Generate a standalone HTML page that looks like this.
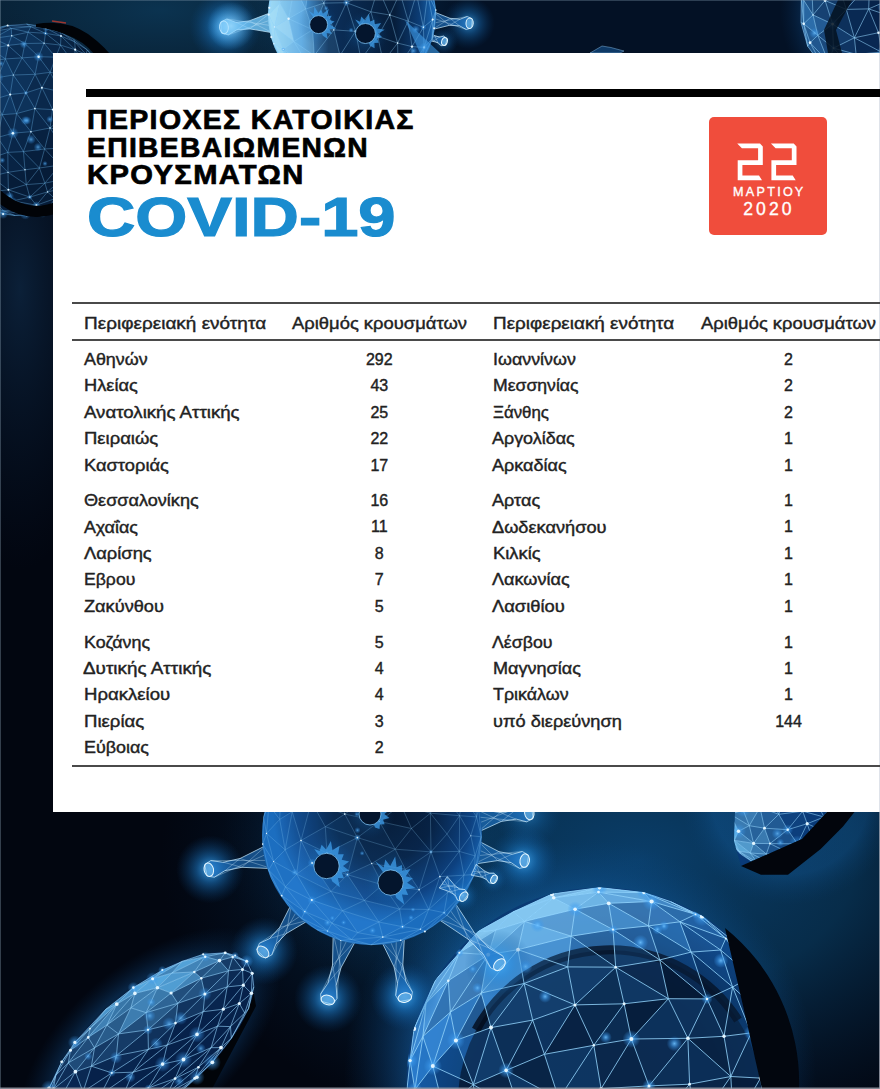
<!DOCTYPE html>
<html lang="el"><head><meta charset="utf-8"><title>COVID-19</title><style>
html,body{margin:0;padding:0}
body{width:880px;height:1089px;overflow:hidden;position:relative;background:#020714;font-family:"Liberation Sans",sans-serif;color:#222}
#bg{position:absolute;left:0;top:0;display:block}
#panel{position:absolute;left:53px;top:53px;width:827px;height:759px;background:#fff;border-right:1px solid #dfe3ea;box-sizing:border-box}
.bar{position:absolute;left:86px;top:89px;width:794px;height:7.5px;background:#000}
.t{position:absolute;left:86.8px;font-weight:bold;font-size:27.5px;line-height:27px;color:#000;white-space:nowrap;transform-origin:0 0;letter-spacing:1.3px;word-spacing:0px;-webkit-text-stroke:0.7px #000}
.cv{position:absolute;left:86.6px;font-weight:bold;font-size:55px;line-height:55px;color:#1a8ccf;white-space:nowrap;transform-origin:0 0;-webkit-text-stroke:1.2px #1a8ccf}
.badge{position:absolute;left:709px;top:116.5px;width:117.5px;height:118.5px;border-radius:5px;background:#f04d3c;color:#fff}
.badge svg{position:absolute;left:0;top:0}
.badge .m{position:absolute;left:0;width:100%;text-align:center;white-space:nowrap;-webkit-text-stroke:0.35px #fff}
.hl{position:absolute;left:72px;width:808px;height:2px;background:#4a4a4a}
.c{position:absolute;white-space:nowrap;font-size:16.5px;line-height:20px;transform-origin:0 50%;color:#222;-webkit-text-stroke:0.4px #222}
.n{position:absolute;white-space:nowrap;font-size:16px;line-height:20px;width:60px;text-align:center;color:#222;-webkit-text-stroke:0.4px #222}
</style></head><body>
<svg id="bg" width="880" height="1089" viewBox="0 0 880 1089">
<defs>
<radialGradient id="halo"><stop offset="0" stop-color="#48b4ff" stop-opacity="0.9"/><stop offset="0.4" stop-color="#1e84d8" stop-opacity="0.5"/><stop offset="1" stop-color="#0a4a8a" stop-opacity="0"/></radialGradient>
<radialGradient id="amb1"><stop offset="0" stop-color="#0a3e6a"/><stop offset="0.45" stop-color="#083354" stop-opacity="0.85"/><stop offset="1" stop-color="#041a34" stop-opacity="0"/></radialGradient>
<radialGradient id="amb2"><stop offset="0" stop-color="#0b3350"/><stop offset="0.5" stop-color="#0a2a42" stop-opacity="0.8"/><stop offset="1" stop-color="#04203c" stop-opacity="0"/></radialGradient>
<radialGradient id="amb3"><stop offset="0" stop-color="#0b2038"/><stop offset="1" stop-color="#06152a" stop-opacity="0"/></radialGradient>
<radialGradient id="rim"><stop offset="0" stop-color="#08244a"/><stop offset="0.6" stop-color="#0a2f60"/><stop offset="0.9" stop-color="#1560aa"/><stop offset="1" stop-color="#1b70c0"/></radialGradient>
<radialGradient id="vir" cx="0.55" cy="0.4"><stop offset="0" stop-color="#051730"/><stop offset="0.45" stop-color="#072244"/><stop offset="0.8" stop-color="#0d4180"/><stop offset="1" stop-color="#1868b8"/></radialGradient>
<radialGradient id="big" cx="0.5" cy="0.55" r="0.5"><stop offset="0" stop-color="#051c3a"/><stop offset="0.65" stop-color="#062244"/><stop offset="1" stop-color="#0a3a74"/></radialGradient>
<radialGradient id="sphglow"><stop offset="0.72" stop-color="#1a78d0" stop-opacity="0.6"/><stop offset="1" stop-color="#0a4a8a" stop-opacity="0"/></radialGradient>
<linearGradient id="capg" x1="0" y1="0" x2="0" y2="1"><stop offset="0" stop-color="#9ad6f5"/><stop offset="1" stop-color="#2f86d0"/></linearGradient>
<linearGradient id="vtop" gradientUnits="userSpaceOnUse" x1="268" y1="0" x2="436" y2="0"><stop offset="0" stop-color="#8fd0f2"/><stop offset="0.2" stop-color="#3f92d8"/><stop offset="0.36" stop-color="#0b2f5a"/><stop offset="0.75" stop-color="#061d3a"/><stop offset="0.9" stop-color="#0c3c74"/><stop offset="1" stop-color="#1a6ab8"/></linearGradient>
<radialGradient id="halo2"><stop offset="0" stop-color="#9fdcff" stop-opacity="0.75"/><stop offset="1" stop-color="#48b4ff" stop-opacity="0"/></radialGradient>
<radialGradient id="dotglow"><stop offset="0" stop-color="#6cc0ff" stop-opacity="0.9"/><stop offset="0.5" stop-color="#3d9cf0" stop-opacity="0.45"/><stop offset="1" stop-color="#3d9cf0" stop-opacity="0"/></radialGradient>
<clipPath id="cBig"><circle cx="601" cy="1082" r="194.5"/></clipPath>
<clipPath id="cFrag"><path d="M735 812 L827 812 L802 839 L759 858 L741 866 L734 841 Z"/></clipPath>
</defs>
<rect width="880" height="1089" fill="#020610"/>
<ellipse cx="640" cy="860" rx="480" ry="300" fill="url(#amb1)"/>
<ellipse cx="160" cy="10" rx="330" ry="120" fill="url(#amb2)"/>
<ellipse cx="20" cy="290" rx="90" ry="280" fill="url(#amb3)"/>
<rect x="430" y="0" width="380" height="53" fill="#04162c" fill-opacity="0.75"/>
<circle cx="22" cy="120" r="96" fill="#061c38"/>
<g fill="#2882d7">
<path d="M7.8 152.4L23.4 151.6L25 169.8Z" fill-opacity="0.06"/>
<path d="M12.9 133.2L7.8 152.4L-2.5 137.5Z" fill-opacity="0.16"/>
<path d="M12.9 133.2L7.8 152.4L23.4 151.6Z" fill-opacity="0.11"/>
<path d="M63.2 147.9L50 128L44.6 149Z" fill-opacity="0.04"/>
<path d="M39.4 168L23.4 151.6L25 169.8Z" fill-opacity="0.06"/>
<path d="M39.4 168L23.4 151.6L44.6 149Z" fill-opacity="0.04"/>
<path d="M2.2 114.7L12.9 133.2L16.6 113.6Z" fill-opacity="0.14"/>
<path d="M2.2 114.7L12.9 133.2L-2.5 137.5Z" fill-opacity="0.15"/>
<path d="M30.9 131.7L23.4 151.6L44.6 149Z" fill-opacity="0.07"/>
<path d="M30.9 131.7L50 128L44.6 149Z" fill-opacity="0.05"/>
<path d="M30.9 131.7L12.9 133.2L23.4 151.6Z" fill-opacity="0.10"/>
<path d="M30.9 131.7L50 128L34.9 108.6Z" fill-opacity="0.12"/>
<path d="M30.9 131.7L34.9 108.6L16.6 113.6Z" fill-opacity="0.13"/>
<path d="M30.9 131.7L12.9 133.2L16.6 113.6Z" fill-opacity="0.18"/>
<path d="M10.2 94.5L2.2 114.7L16.6 113.6Z" fill-opacity="0.27"/>
<path d="M10.2 94.5L2.2 114.7L-7 99.6Z" fill-opacity="0.26"/>
<path d="M5.4 58.9L-10.7 61.7L-9.6 48.7Z" fill-opacity="0.32"/>
<path d="M8 172.3L7.8 152.4L25 169.8Z" fill-opacity="0.08"/>
<path d="M66.4 131.1L63.2 147.9L50 128Z" fill-opacity="0.05"/>
<path d="M-15.3 119.2L2.2 114.7L-7 99.6Z" fill-opacity="0.25"/>
<path d="M-15.3 119.2L2.2 114.7L-2.5 137.5Z" fill-opacity="0.21"/>
<path d="M-2.5 77.7L10.2 94.5L-7 99.6Z" fill-opacity="0.31"/>
<path d="M-2.5 77.7L5.4 58.9L-10.7 61.7Z" fill-opacity="0.23"/>
<path d="M8.2 45.4L5.4 58.9L-9.6 48.7Z" fill-opacity="0.32"/>
<path d="M8.2 45.4L-6.7 38.4L-9.6 48.7Z" fill-opacity="0.32"/>
<path d="M-12 30.6L7.6 25.5L3.6 26.2Z" fill-opacity="0.17"/>
<path d="M-12 30.6L7.6 25.5L-5.1 31.1Z" fill-opacity="0.18"/>
<path d="M-6.4 157.3L8 172.3L7.8 152.4Z" fill-opacity="0.07"/>
<path d="M-6.4 157.3L7.8 152.4L-2.5 137.5Z" fill-opacity="0.15"/>
<path d="M-6.4 157.3L8 172.3L-9.2 176.5Z" fill-opacity="0.11"/>
<path d="M25.9 92.9L34.9 108.6L16.6 113.6Z" fill-opacity="0.22"/>
<path d="M25.9 92.9L10.2 94.5L16.6 113.6Z" fill-opacity="0.19"/>
<path d="M13.3 75L-2.5 77.7L5.4 58.9Z" fill-opacity="0.32"/>
<path d="M13.3 75L-2.5 77.7L10.2 94.5Z" fill-opacity="0.27"/>
<path d="M13.3 75L25.9 92.9L10.2 94.5Z" fill-opacity="0.26"/>
<path d="M13.3 75L25.9 92.9L35.1 74.3Z" fill-opacity="0.22"/>
<path d="M61 36L46 28.2L60.5 32.2Z" fill-opacity="0.08"/>
<path d="M22.1 57.9L8.2 45.4L5.4 58.9Z" fill-opacity="0.18"/>
<path d="M22.1 57.9L13.3 75L5.4 58.9Z" fill-opacity="0.21"/>
<path d="M22.1 57.9L13.3 75L35.1 74.3Z" fill-opacity="0.20"/>
<path d="M8.4 189.8L8 172.3L-9.2 176.5Z" fill-opacity="0.05"/>
<path d="M52.6 109.6L50 128L34.9 108.6Z" fill-opacity="0.13"/>
<path d="M41.9 87.7L25.9 92.9L35.1 74.3Z" fill-opacity="0.14"/>
<path d="M41.9 87.7L50.2 72.3L35.1 74.3Z" fill-opacity="0.13"/>
<path d="M41.9 87.7L50.2 72.3L60.1 91.5Z" fill-opacity="0.12"/>
<path d="M41.9 87.7L25.9 92.9L34.9 108.6Z" fill-opacity="0.19"/>
<path d="M41.9 87.7L52.6 109.6L34.9 108.6Z" fill-opacity="0.12"/>
<path d="M41.9 87.7L52.6 109.6L60.1 91.5Z" fill-opacity="0.14"/>
<path d="M74.8 41.9L61 36L60.5 32.2Z" fill-opacity="0.04"/>
<path d="M75.2 49.7L85.5 65L86 54.4Z" fill-opacity="0.03"/>
<path d="M75.2 49.7L74.8 41.9L61 36Z" fill-opacity="0.05"/>
<path d="M11.3 28.4L7.6 25.5L-5.1 31.1Z" fill-opacity="0.14"/>
<path d="M11.3 28.4L-6.7 38.4L-5.1 31.1Z" fill-opacity="0.24"/>
<path d="M45.5 33.3L61 36L46 28.2Z" fill-opacity="0.12"/>
<path d="M24.9 43.5L22.1 57.9L8.2 45.4Z" fill-opacity="0.17"/>
<path d="M40.2 26L46 28.2L26.6 24.1Z" fill-opacity="0.07"/>
<path d="M40.2 26L46 28.2L60.5 32.2Z" fill-opacity="0.06"/>
<path d="M26.3 184.6L8 172.3L25 169.8Z" fill-opacity="0.04"/>
<path d="M68.8 112L76.4 92.5L60.1 91.5Z" fill-opacity="0.07"/>
<path d="M68.8 112L52.6 109.6L60.1 91.5Z" fill-opacity="0.09"/>
<path d="M68.8 112L66.4 131.1L50 128Z" fill-opacity="0.05"/>
<path d="M68.8 112L52.6 109.6L50 128Z" fill-opacity="0.05"/>
<path d="M74.2 63.8L75.2 49.7L85.5 65Z" fill-opacity="0.04"/>
<path d="M74.2 63.8L80.7 80.1L85.5 65Z" fill-opacity="0.04"/>
<path d="M11.7 35.8L11.3 28.4L-6.7 38.4Z" fill-opacity="0.29"/>
<path d="M11.7 35.8L11.3 28.4L28.2 32.2Z" fill-opacity="0.16"/>
<path d="M11.7 35.8L8.2 45.4L-6.7 38.4Z" fill-opacity="0.30"/>
<path d="M11.7 35.8L24.9 43.5L8.2 45.4Z" fill-opacity="0.27"/>
<path d="M11.7 35.8L24.9 43.5L28.2 32.2Z" fill-opacity="0.17"/>
<path d="M30.8 26.7L7.6 25.5L26.6 24.1Z" fill-opacity="0.15"/>
<path d="M30.8 26.7L11.3 28.4L7.6 25.5Z" fill-opacity="0.16"/>
<path d="M30.8 26.7L46 28.2L26.6 24.1Z" fill-opacity="0.08"/>
<path d="M30.8 26.7L11.3 28.4L28.2 32.2Z" fill-opacity="0.22"/>
<path d="M30.8 26.7L45.5 33.3L46 28.2Z" fill-opacity="0.09"/>
<path d="M30.8 26.7L45.5 33.3L28.2 32.2Z" fill-opacity="0.11"/>
<path d="M38.6 56.7L24.9 43.5L22.1 57.9Z" fill-opacity="0.23"/>
<path d="M38.6 56.7L50.2 72.3L55.7 57.2Z" fill-opacity="0.15"/>
<path d="M38.6 56.7L22.1 57.9L35.1 74.3Z" fill-opacity="0.23"/>
<path d="M38.6 56.7L50.2 72.3L35.1 74.3Z" fill-opacity="0.19"/>
<path d="M60.5 45.1L74.2 63.8L55.7 57.2Z" fill-opacity="0.07"/>
<path d="M60.5 45.1L74.2 63.8L75.2 49.7Z" fill-opacity="0.07"/>
<path d="M60.5 45.1L75.2 49.7L61 36Z" fill-opacity="0.09"/>
<path d="M60.5 45.1L45.5 33.3L61 36Z" fill-opacity="0.08"/>
<path d="M44.1 43.2L45.5 33.3L28.2 32.2Z" fill-opacity="0.13"/>
<path d="M44.1 43.2L24.9 43.5L28.2 32.2Z" fill-opacity="0.22"/>
<path d="M44.1 43.2L60.5 45.1L45.5 33.3Z" fill-opacity="0.09"/>
<path d="M44.1 43.2L60.5 45.1L55.7 57.2Z" fill-opacity="0.11"/>
<path d="M44.1 43.2L38.6 56.7L55.7 57.2Z" fill-opacity="0.20"/>
<path d="M44.1 43.2L38.6 56.7L24.9 43.5Z" fill-opacity="0.22"/>
<path d="M66.5 75.5L74.2 63.8L80.7 80.1Z" fill-opacity="0.05"/>
<path d="M66.5 75.5L50.2 72.3L60.1 91.5Z" fill-opacity="0.08"/>
<path d="M66.5 75.5L50.2 72.3L55.7 57.2Z" fill-opacity="0.11"/>
<path d="M66.5 75.5L74.2 63.8L55.7 57.2Z" fill-opacity="0.10"/>
<path d="M66.5 75.5L76.4 92.5L60.1 91.5Z" fill-opacity="0.09"/>
<path d="M66.5 75.5L80.7 80.1L76.4 92.5Z" fill-opacity="0.05"/>
</g>
<path d="M-12 30.6L3.6 26.2M-12 30.6L-5.1 31.1M-12 30.6L7.6 25.5M3.6 26.2L7.6 25.5M-5.1 31.1L7.6 25.5M-5.1 31.1L-6.7 38.4M-5.1 31.1L11.3 28.4M7.6 25.5L11.3 28.4M7.6 25.5L26.6 24.1M7.6 25.5L30.8 26.7M-6.7 38.4L11.3 28.4M-6.7 38.4L-9.6 48.7M-6.7 38.4L11.7 35.8M-6.7 38.4L8.2 45.4M11.3 28.4L11.7 35.8M11.3 28.4L30.8 26.7M11.3 28.4L28.2 32.2M-9.6 48.7L-10.7 61.7M-9.6 48.7L8.2 45.4M-9.6 48.7L5.4 58.9M26.6 24.1L30.8 26.7M26.6 24.1L40.2 26M26.6 24.1L46 28.2M11.7 35.8L8.2 45.4M11.7 35.8L28.2 32.2M11.7 35.8L24.9 43.5M-10.7 61.7L5.4 58.9M-10.7 61.7L-2.5 77.7M30.8 26.7L28.2 32.2M30.8 26.7L46 28.2M30.8 26.7L45.5 33.3M8.2 45.4L5.4 58.9M8.2 45.4L24.9 43.5M8.2 45.4L22.1 57.9M40.2 26L46 28.2M40.2 26L60.5 32.2M28.2 32.2L24.9 43.5M28.2 32.2L45.5 33.3M28.2 32.2L44.1 43.2M5.4 58.9L-2.5 77.7M5.4 58.9L22.1 57.9M5.4 58.9L13.3 75M46 28.2L45.5 33.3M46 28.2L60.5 32.2M46 28.2L61 36M24.9 43.5L22.1 57.9M24.9 43.5L44.1 43.2M24.9 43.5L38.6 56.7M-2.5 77.7L-7 99.6M-2.5 77.7L13.3 75M-2.5 77.7L10.2 94.5M45.5 33.3L44.1 43.2M45.5 33.3L61 36M45.5 33.3L60.5 45.1M22.1 57.9L13.3 75M22.1 57.9L38.6 56.7M22.1 57.9L35.1 74.3M60.5 32.2L61 36M60.5 32.2L73.8 39.4M60.5 32.2L74.8 41.9M-7 99.6L-15.3 119.2M-7 99.6L10.2 94.5M-7 99.6L2.2 114.7M44.1 43.2L38.6 56.7M44.1 43.2L60.5 45.1M44.1 43.2L55.7 57.2M13.3 75L10.2 94.5M13.3 75L35.1 74.3M13.3 75L25.9 92.9M61 36L60.5 45.1M61 36L74.8 41.9M61 36L75.2 49.7M-15.3 119.2L2.2 114.7M-15.3 119.2L-2.5 137.5M38.6 56.7L35.1 74.3M38.6 56.7L55.7 57.2M38.6 56.7L50.2 72.3M73.8 39.4L74.8 41.9M73.8 39.4L87.3 49.9M10.2 94.5L2.2 114.7M10.2 94.5L25.9 92.9M10.2 94.5L16.6 113.6M60.5 45.1L55.7 57.2M60.5 45.1L75.2 49.7M60.5 45.1L74.2 63.8M35.1 74.3L25.9 92.9M35.1 74.3L50.2 72.3M35.1 74.3L41.9 87.7M74.8 41.9L75.2 49.7M74.8 41.9L87.3 49.9M74.8 41.9L86 54.4M2.2 114.7L-2.5 137.5M2.2 114.7L16.6 113.6M2.2 114.7L12.9 133.2M55.7 57.2L50.2 72.3M55.7 57.2L74.2 63.8M55.7 57.2L66.5 75.5M25.9 92.9L16.6 113.6M25.9 92.9L41.9 87.7M25.9 92.9L34.9 108.6M75.2 49.7L74.2 63.8M75.2 49.7L86 54.4M75.2 49.7L85.5 65M-2.5 137.5L-6.4 157.3M-2.5 137.5L12.9 133.2M-2.5 137.5L7.8 152.4M50.2 72.3L41.9 87.7M50.2 72.3L66.5 75.5M50.2 72.3L60.1 91.5M87.3 49.9L86 54.4M87.3 49.9L96.3 59.2M87.3 49.9L99.6 66.3M16.6 113.6L12.9 133.2M16.6 113.6L34.9 108.6M16.6 113.6L30.9 131.7M74.2 63.8L66.5 75.5M74.2 63.8L85.5 65M74.2 63.8L80.7 80.1M-6.4 157.3L-9.2 176.5M-6.4 157.3L7.8 152.4M-6.4 157.3L8 172.3M41.9 87.7L34.9 108.6M41.9 87.7L60.1 91.5M41.9 87.7L52.6 109.6M86 54.4L85.5 65M86 54.4L99.6 66.3M86 54.4L98.2 74.6M12.9 133.2L7.8 152.4M12.9 133.2L30.9 131.7M12.9 133.2L23.4 151.6M66.5 75.5L60.1 91.5M66.5 75.5L80.7 80.1M66.5 75.5L76.4 92.5M-9.2 176.5L-7.5 191.5M-9.2 176.5L8 172.3M-9.2 176.5L8.4 189.8M96.3 59.2L99.6 66.3M96.3 59.2L107.4 76.6M34.9 108.6L30.9 131.7M34.9 108.6L52.6 109.6M34.9 108.6L50 128M-13.8 204.3L-6.6 211M-13.8 204.3L-4.7 202.1M-13.8 204.3L3.8 211M85.5 65L80.7 80.1M85.5 65L98.2 74.6M85.5 65L94.4 85.5M7.8 152.4L8 172.3M7.8 152.4L23.4 151.6M7.8 152.4L25 169.8M60.1 91.5L52.6 109.6M60.1 91.5L76.4 92.5M60.1 91.5L68.8 112M-7.5 191.5L-4.7 202.1M-7.5 191.5L8.4 189.8M-7.5 191.5L12.9 200.9M99.6 66.3L98.2 74.6M99.6 66.3L107.4 76.6M99.6 66.3L107.1 85.1M30.9 131.7L23.4 151.6M30.9 131.7L50 128M30.9 131.7L44.6 149M-6.6 211L3.1 214M-6.6 211L3.8 211M-6.6 211L15 215.5M80.7 80.1L76.4 92.5M80.7 80.1L94.4 85.5M80.7 80.1L90.1 98.6M8 172.3L8.4 189.8M8 172.3L25 169.8M8 172.3L26.3 184.6M52.6 109.6L50 128M52.6 109.6L68.8 112M-4.7 202.1L3.8 211M-4.7 202.1L12.9 200.9M-4.7 202.1L18.3 209M98.2 74.6L94.4 85.5M98.2 74.6L107.1 85.1M98.2 74.6L105.1 95.3M23.4 151.6L25 169.8M23.4 151.6L44.6 149M23.4 151.6L39.4 168M3.1 214L15 215.5M76.4 92.5L68.8 112M76.4 92.5L90.1 98.6M76.4 92.5L84.5 116.9M8.4 189.8L12.9 200.9M8.4 189.8L26.3 184.6M8.4 189.8L29.8 197.1M107.4 76.6L107.1 85.1M107.4 76.6L113.7 91.6M107.4 76.6L113.7 98.3M50 128L68.8 112M50 128L44.6 149M50 128L66.4 131.1M50 128L63.2 147.9M3.8 211L15 215.5M3.8 211L18.3 209M3.8 211L25.4 214.1M94.4 85.5L90.1 98.6M94.4 85.5L105.1 95.3M94.4 85.5L100.6 110.4M25 169.8L26.3 184.6M25 169.8L39.4 168M68.8 112L66.4 131.1M68.8 112L84.5 116.9M68.8 112L79.5 132.6M12.9 200.9L18.3 209M12.9 200.9L29.8 197.1M12.9 200.9L36.4 205.2M107.1 85.1L105.1 95.3M107.1 85.1L113.7 98.3M44.6 149L39.4 168M44.6 149L63.2 147.9M44.6 149L59.7 165.1M15 215.5L26.9 215.6M15 215.5L25.4 214.1M90.1 98.6L84.5 116.9M90.1 98.6L100.6 110.4M90.1 98.6L94.9 123.3M26.3 184.6L39.4 168M26.3 184.6L29.8 197.1M26.3 184.6L44.9 183.2M113.7 91.6L113.7 98.3M113.7 91.6L117.5 110.4M66.4 131.1L63.2 147.9M66.4 131.1L79.5 132.6M18.3 209L25.4 214.1M18.3 209L36.4 205.2M105.1 95.3L113.7 98.3M105.1 95.3L100.6 110.4M105.1 95.3L112.3 111.1M39.4 168L44.9 183.2M39.4 168L59.7 165.1M26.9 215.6L25.4 214.1M26.9 215.6L42.6 213.7M84.5 116.9L79.5 132.6M84.5 116.9L94.9 123.3M29.8 197.1L44.9 183.2M29.8 197.1L36.4 205.2M29.8 197.1L47.5 191.9M113.7 98.3L117.5 110.4M113.7 98.3L112.3 111.1M113.7 98.3L117.5 117.6M63.2 147.9L79.5 132.6M63.2 147.9L59.7 165.1M63.2 147.9L76.1 151.2M25.4 214.1L36.4 205.2M25.4 214.1L42.6 213.7M25.4 214.1L48.5 207.9M100.6 110.4L112.3 111.1M100.6 110.4L94.9 123.3M100.6 110.4L108.1 121.3M44.9 183.2L59.7 165.1M44.9 183.2L47.5 191.9M44.9 183.2L61.2 179.7M117.5 110.4L117.5 117.6M79.5 132.6L94.9 123.3M79.5 132.6L76.1 151.2M79.5 132.6L92.6 143.4M36.4 205.2L47.5 191.9M36.4 205.2L48.5 207.9M36.4 205.2L54.9 198.7M112.3 111.1L117.5 117.6M112.3 111.1L108.1 121.3M112.3 111.1L114.8 125.9M59.7 165.1L76.1 151.2M59.7 165.1L61.2 179.7M59.7 165.1L77.6 169.2M42.6 213.7L48.5 207.9M42.6 213.7L55.4 209.9M42.6 213.7L59.2 207M94.9 123.3L108.1 121.3M94.9 123.3L92.6 143.4M94.9 123.3L104.1 141.6M47.5 191.9L61.2 179.7M47.5 191.9L54.9 198.7M47.5 191.9L69.1 187M117.5 117.6L117.4 128.5M117.5 117.6L114.8 125.9M117.5 117.6L116.2 136.1M76.1 151.2L92.6 143.4M76.1 151.2L77.6 169.2M76.1 151.2L91.6 159.1M48.5 207.9L54.9 198.7M48.5 207.9L59.2 207M48.5 207.9L69.7 198.5M108.1 121.3L114.8 125.9M108.1 121.3L104.1 141.6M108.1 121.3L109.6 146.2M61.2 179.7L77.6 169.2M61.2 179.7L69.1 187M117.4 128.5L116.2 136.1M55.4 209.9L59.2 207M55.4 209.9L71.1 202.3M92.6 143.4L104.1 141.6M92.6 143.4L91.6 159.1M54.9 198.7L69.1 187M54.9 198.7L69.7 198.5M114.8 125.9L116.2 136.1M114.8 125.9L109.6 146.2M77.6 169.2L69.1 187M77.6 169.2L91.6 159.1M77.6 169.2L81.7 178.4M59.2 207L71.1 202.3M59.2 207L69.7 198.5M59.2 207L79.2 196.3M104.1 141.6L91.6 159.1M104.1 141.6L109.6 146.2M104.1 141.6L101.1 158.2M69.1 187L69.7 198.5M69.1 187L81.7 178.4M69.1 187L83.3 186.6M116.2 136.1L109.6 146.2M116.2 136.1L111.1 155.8M116.2 136.1L108.4 157.7M71.1 202.3L79.2 196.3M91.6 159.1L81.7 178.4M91.6 159.1L101.1 158.2M69.7 198.5L79.2 196.3M69.7 198.5L83.3 186.6M109.6 146.2L101.1 158.2M109.6 146.2L108.4 157.7M81.7 178.4L101.1 158.2M81.7 178.4L83.3 186.6M81.7 178.4L95.3 174.8M111.1 155.8L100 175.4M111.1 155.8L108.4 157.7M111.1 155.8L100.3 173.8M79.2 196.3L83.3 186.6M79.2 196.3L89.8 187.7M101.1 158.2L108.4 157.7M101.1 158.2L95.3 174.8M100 175.4L89.8 187.7M100 175.4L100.3 173.8M83.3 186.6L89.8 187.7M83.3 186.6L95.3 174.8M108.4 157.7L95.3 174.8M108.4 157.7L100.3 173.8M89.8 187.7L95.3 174.8M89.8 187.7L100.3 173.8M95.3 174.8L100.3 173.8" fill="none" stroke="#78c3fa" stroke-opacity="0.62" stroke-width="0.55"/>
<g fill="url(#dotglow)" fill-opacity="0.8"><circle cx="-6.7" cy="38.4" r="2.5"/><circle cx="46" cy="28.2" r="3.5"/><circle cx="-2.5" cy="77.7" r="6"/><circle cx="45.5" cy="33.3" r="2.5"/><circle cx="38.6" cy="56.7" r="5.2"/><circle cx="25.9" cy="92.9" r="2.4"/><circle cx="12.9" cy="133.2" r="5.8"/><circle cx="85.5" cy="65" r="4.1"/><circle cx="80.7" cy="80.1" r="6"/><circle cx="3.1" cy="214" r="5.1"/><circle cx="76.4" cy="92.5" r="2.7"/><circle cx="107.4" cy="76.6" r="5"/><circle cx="68.8" cy="112" r="4"/><circle cx="12.9" cy="200.9" r="3.9"/><circle cx="84.5" cy="116.9" r="2.5"/><circle cx="29.8" cy="197.1" r="2.8"/><circle cx="63.2" cy="147.9" r="5.4"/><circle cx="25.4" cy="214.1" r="5.6"/><circle cx="100.6" cy="110.4" r="2.9"/><circle cx="36.4" cy="205.2" r="4.1"/><circle cx="42.6" cy="213.7" r="4.1"/><circle cx="117.5" cy="117.6" r="2.9"/><circle cx="76.1" cy="151.2" r="4"/><circle cx="92.6" cy="143.4" r="5"/><circle cx="59.2" cy="207" r="4.1"/><circle cx="104.1" cy="141.6" r="5.5"/><circle cx="89.8" cy="187.7" r="3.7"/><circle cx="-20.6" cy="121.4" r="3.3"/><circle cx="45" cy="163.6" r="2.7"/><circle cx="-50.8" cy="141.8" r="3.4"/><circle cx="61.1" cy="69.3" r="4.5"/><circle cx="49.8" cy="119.3" r="3.6"/><circle cx="38" cy="147.1" r="4.3"/><circle cx="88.1" cy="122" r="4.8"/><circle cx="-40.6" cy="153.8" r="3"/><circle cx="23.7" cy="44.4" r="4"/><circle cx="77.2" cy="88.2" r="4"/><circle cx="99.4" cy="128.1" r="3.5"/><circle cx="0.9" cy="63.6" r="3"/><circle cx="-60.1" cy="131.2" r="4.2"/><circle cx="70" cy="161" r="4.7"/><circle cx="25.2" cy="120.5" r="4.5"/><circle cx="-40.1" cy="79" r="3.4"/><circle cx="-8.6" cy="107.1" r="3"/><circle cx="-52.9" cy="94.1" r="3.9"/><circle cx="27" cy="120.5" r="4.4"/><circle cx="-3.2" cy="148.7" r="3.3"/><circle cx="74.5" cy="92.1" r="3"/><circle cx="31" cy="139.4" r="4.8"/><circle cx="-33.5" cy="135.6" r="2.8"/><circle cx="9.5" cy="196.3" r="4.6"/><circle cx="-21.1" cy="134.5" r="4.9"/><circle cx="2.2" cy="160.3" r="3"/></g>
<g fill="#e4f5ff"><circle cx="-12" cy="30.6" r="0.9"/><circle cx="-5.1" cy="31.1" r="0.9"/><circle cx="7.6" cy="25.5" r="1"/><circle cx="-6.7" cy="38.4" r="0.6"/><circle cx="11.7" cy="35.8" r="0.7"/><circle cx="-10.7" cy="61.7" r="0.9"/><circle cx="8.2" cy="45.4" r="1.1"/><circle cx="46" cy="28.2" r="0.8"/><circle cx="-2.5" cy="77.7" r="1.3"/><circle cx="45.5" cy="33.3" r="0.6"/><circle cx="-7" cy="99.6" r="1"/><circle cx="44.1" cy="43.2" r="0.6"/><circle cx="13.3" cy="75" r="0.6"/><circle cx="61" cy="36" r="0.9"/><circle cx="38.6" cy="56.7" r="1.2"/><circle cx="10.2" cy="94.5" r="1.1"/><circle cx="55.7" cy="57.2" r="1.3"/><circle cx="25.9" cy="92.9" r="0.5"/><circle cx="75.2" cy="49.7" r="1.1"/><circle cx="41.9" cy="87.7" r="1"/><circle cx="12.9" cy="133.2" r="1.3"/><circle cx="66.5" cy="75.5" r="0.7"/><circle cx="34.9" cy="108.6" r="0.8"/><circle cx="85.5" cy="65" r="0.9"/><circle cx="30.9" cy="131.7" r="0.8"/><circle cx="-6.6" cy="211" r="1.3"/><circle cx="80.7" cy="80.1" r="1.3"/><circle cx="8" cy="172.3" r="0.6"/><circle cx="52.6" cy="109.6" r="0.9"/><circle cx="98.2" cy="74.6" r="0.6"/><circle cx="3.1" cy="214" r="1.1"/><circle cx="76.4" cy="92.5" r="0.6"/><circle cx="8.4" cy="189.8" r="1"/><circle cx="107.4" cy="76.6" r="1.1"/><circle cx="50" cy="128" r="0.7"/><circle cx="94.4" cy="85.5" r="1.3"/><circle cx="25" cy="169.8" r="0.7"/><circle cx="68.8" cy="112" r="0.9"/><circle cx="12.9" cy="200.9" r="0.9"/><circle cx="107.1" cy="85.1" r="1.3"/><circle cx="113.7" cy="91.6" r="0.8"/><circle cx="66.4" cy="131.1" r="0.8"/><circle cx="18.3" cy="209" r="1.3"/><circle cx="26.9" cy="215.6" r="0.8"/><circle cx="84.5" cy="116.9" r="0.6"/><circle cx="29.8" cy="197.1" r="0.6"/><circle cx="113.7" cy="98.3" r="0.8"/><circle cx="63.2" cy="147.9" r="1.2"/><circle cx="25.4" cy="214.1" r="1.2"/><circle cx="100.6" cy="110.4" r="0.6"/><circle cx="79.5" cy="132.6" r="1.2"/><circle cx="36.4" cy="205.2" r="0.9"/><circle cx="42.6" cy="213.7" r="0.9"/><circle cx="47.5" cy="191.9" r="0.7"/><circle cx="117.5" cy="117.6" r="0.6"/><circle cx="76.1" cy="151.2" r="0.9"/><circle cx="61.2" cy="179.7" r="0.6"/><circle cx="92.6" cy="143.4" r="1.1"/><circle cx="54.9" cy="198.7" r="0.8"/><circle cx="59.2" cy="207" r="0.9"/><circle cx="104.1" cy="141.6" r="1.2"/><circle cx="71.1" cy="202.3" r="1"/><circle cx="81.7" cy="178.4" r="1.2"/><circle cx="111.1" cy="155.8" r="0.6"/><circle cx="79.2" cy="196.3" r="0.8"/><circle cx="101.1" cy="158.2" r="1.1"/><circle cx="100" cy="175.4" r="1"/><circle cx="83.3" cy="186.6" r="0.9"/><circle cx="89.8" cy="187.7" r="0.8"/><circle cx="95.3" cy="174.8" r="1.2"/></g>
<path d="M36 24 Q66 19 88 34 Q106 47 116 62 L100 62 Q90 46 74 38 Q58 30 36 27 Z" fill="#010307"/>
<path d="M-8 190 Q24 222 60 206" fill="none" stroke="#010307" stroke-width="11"/>
<path d="M52 21 L66 23" stroke="#c0392b" stroke-width="1.6" stroke-opacity="0.8"/>
<circle cx="352" cy="15" r="110" fill="url(#halo)" opacity="0.35"/>
<circle cx="225.2" cy="27.2" r="36" fill="url(#halo)" opacity="1.0"/><path d="M270.4 12.8L249.1 20.9L236 22.4L226.8 19L220.7 22L221.7 33.2L228.3 34.9L236.7 29.9L249.9 28.9L272.3 32.7Z" fill="#6fc0f0" fill-opacity="0.85" stroke="#c8ecff" stroke-width="0.8" stroke-opacity="0.9"/><path d="M271.1 19.8L228.3 34.9M271.7 25.7L226.8 19M249.1 20.9L236.7 30.1M249.9 28.9L236 22.2M270.4 12.8L249.9 28.9M272.3 32.7L249.1 20.9" stroke="#d5f1ff" stroke-width="0.5" stroke-opacity="0.65" fill="none"/><ellipse cx="224" cy="27.3" rx="6.4" ry="4.4" transform="rotate(264.5 224 27.3)" fill="#8fd0f8" fill-opacity="0.45" stroke="#e8f8ff" stroke-width="1"/>
<circle cx="468.7" cy="23.2" r="26" fill="url(#halo)" opacity="0.8"/><path d="M432.2 29.6L449.5 25.3L459.7 25.9L466.3 29.5L471.6 27.9L472.2 18.8L467.2 16.5L460.2 19.2L450 18.3L433.4 11.7Z" fill="#2277c8" fill-opacity="0.6" stroke="#c8ecff" stroke-width="0.8" stroke-opacity="0.9"/><path d="M432.6 23.3L467.2 16.5M433 18L466.3 29.5M449.5 25.3L460.2 19.1M450 18.3L459.7 26M432.2 29.6L450 18.3M433.4 11.7L449.5 25.3" stroke="#d5f1ff" stroke-width="0.5" stroke-opacity="0.65" fill="none"/><ellipse cx="469.6" cy="23.2" rx="5.2" ry="3.6" transform="rotate(94 469.6 23.2)" fill="#8fd0f8" fill-opacity="0.45" stroke="#e8f8ff" stroke-width="1"/>
<circle cx="443.8" cy="41.3" r="14" fill="url(#halo)" opacity="0.6"/><path d="M423.4 41.7L432.9 41.3L438.1 42.7L441 45.7L445.2 45.4L447.2 38.6L443.7 36.1L439.7 37.2L434.5 35.5L426.7 30.2Z" fill="#2277c8" fill-opacity="0.6" stroke="#c8ecff" stroke-width="0.8" stroke-opacity="0.9"/><path d="M424.6 37.7L443.7 36.1M425.6 34.2L441 45.7M432.9 41.3L439.7 37M434.5 35.5L438.1 42.8M423.4 41.7L434.5 35.5M426.7 30.2L432.9 41.3" stroke="#d5f1ff" stroke-width="0.5" stroke-opacity="0.65" fill="none"/><ellipse cx="444.5" cy="41.5" rx="4" ry="2.8" transform="rotate(106 444.5 41.5)" fill="#8fd0f8" fill-opacity="0.45" stroke="#e8f8ff" stroke-width="1"/>
<circle cx="231" cy="26" r="24" fill="url(#halo2)"/>
<circle cx="352" cy="15" r="84" fill="url(#vtop)"/>
<g fill="#aae1f8">
<path d="M274.5 26.9L279.8 3.2L268.7 14.7Z" fill-opacity="0.80"/>
<path d="M274.5 26.9L279.8 3.2L288.6 18.7Z" fill-opacity="0.63"/>
<path d="M309.2 -18.2L323.9 3.1L333.6 -19.9Z" fill-opacity="0.06"/>
<path d="M303 76.6L283.2 49.4L310.6 69Z" fill-opacity="0.37"/>
<path d="M303 76.6L283.2 49.4L285.2 63.6Z" fill-opacity="0.51"/>
<path d="M339.1 73.4L314.2 55.5L310.6 69Z" fill-opacity="0.15"/>
<path d="M272.9 -7.9L279.8 3.2L268.7 14.7Z" fill-opacity="0.54"/>
<path d="M272.9 -7.9L285.5 -24.8L279.8 3.2Z" fill-opacity="0.53"/>
<path d="M293.8 41.5L274.5 26.9L288.6 18.7Z" fill-opacity="0.72"/>
<path d="M293.8 41.5L283.2 49.4L274.5 26.9Z" fill-opacity="0.55"/>
<path d="M293.8 41.5L314.2 55.5L310.6 69Z" fill-opacity="0.41"/>
<path d="M293.8 41.5L283.2 49.4L310.6 69Z" fill-opacity="0.42"/>
<path d="M305.6 9L309.2 -18.2L323.9 3.1Z" fill-opacity="0.10"/>
<path d="M272.9 -12.3L269.3 7.8L268.7 14.7Z" fill-opacity="0.63"/>
<path d="M272.9 -12.3L272.9 -7.9L268.7 14.7Z" fill-opacity="0.55"/>
<path d="M273.9 43.7L274.5 26.9L268.7 14.7Z" fill-opacity="0.75"/>
<path d="M273.9 43.7L271.3 37.1L268.7 14.7Z" fill-opacity="0.67"/>
<path d="M273.9 43.7L283.2 49.4L274.5 26.9Z" fill-opacity="0.69"/>
<path d="M273.9 43.7L283.2 49.4L285.2 63.6Z" fill-opacity="0.75"/>
<path d="M273.9 43.7L285.2 63.6L281 57.9Z" fill-opacity="0.70"/>
<path d="M340 55.5L333.8 29.9L314.2 55.5Z" fill-opacity="0.10"/>
<path d="M340 55.5L339.1 73.4L314.2 55.5Z" fill-opacity="0.09"/>
<path d="M294.6 -14L305.6 9L309.2 -18.2Z" fill-opacity="0.26"/>
<path d="M294.6 -14L279.8 3.2L288.6 18.7Z" fill-opacity="0.38"/>
<path d="M294.6 -14L305.6 9L288.6 18.7Z" fill-opacity="0.39"/>
<path d="M294.6 -14L285.5 -24.8L279.8 3.2Z" fill-opacity="0.31"/>
<path d="M312.7 29.7L293.8 41.5L314.2 55.5Z" fill-opacity="0.35"/>
<path d="M312.7 29.7L333.8 29.9L314.2 55.5Z" fill-opacity="0.11"/>
<path d="M312.7 29.7L293.8 41.5L288.6 18.7Z" fill-opacity="0.33"/>
<path d="M312.7 29.7L305.6 9L288.6 18.7Z" fill-opacity="0.31"/>
<path d="M312.7 29.7L333.8 29.9L323.9 3.1Z" fill-opacity="0.08"/>
<path d="M312.7 29.7L305.6 9L323.9 3.1Z" fill-opacity="0.16"/>
</g>
<path d="M285.2 63.6L303 76.6M285.2 63.6L283.2 49.4M285.2 63.6L273.9 43.7M285.2 63.6L281 57.9M303 76.6L283.2 49.4M303 76.6L310.6 69M283.2 49.4L310.6 69M283.2 49.4L273.9 43.7M283.2 49.4L293.8 41.5M283.2 49.4L274.5 26.9M310.6 69L293.8 41.5M310.6 69L314.2 55.5M310.6 69L339.1 73.4M273.9 43.7L281 57.9M273.9 43.7L274.5 26.9M273.9 43.7L271.3 37.1M273.9 43.7L268.7 14.7M293.8 41.5L274.5 26.9M293.8 41.5L314.2 55.5M293.8 41.5L288.6 18.7M293.8 41.5L312.7 29.7M274.5 26.9L288.6 18.7M274.5 26.9L268.7 14.7M274.5 26.9L279.8 3.2M314.2 55.5L339.1 73.4M314.2 55.5L312.7 29.7M314.2 55.5L340 55.5M314.2 55.5L333.8 29.9M271.3 37.1L268.7 14.7M288.6 18.7L312.7 29.7M288.6 18.7L279.8 3.2M288.6 18.7L305.6 9M288.6 18.7L294.6 -14M339.1 73.4L340 55.5M339.1 73.4L361 59.4M268.7 14.7L279.8 3.2M268.7 14.7L269.3 7.8M268.7 14.7L272.9 -7.9M268.7 14.7L272.9 -12.3M312.7 29.7L305.6 9M312.7 29.7L333.8 29.9M312.7 29.7L323.9 3.1M279.8 3.2L272.9 -7.9M279.8 3.2L294.6 -14M279.8 3.2L285.5 -24.8M340 55.5L333.8 29.9M340 55.5L361 59.4M340 55.5L355.5 31.3M269.3 7.8L272.9 -12.3M305.6 9L294.6 -14M305.6 9L323.9 3.1M305.6 9L309.2 -18.2M272.9 -7.9L272.9 -12.3M272.9 -7.9L285.5 -24.8M333.8 29.9L323.9 3.1M333.8 29.9L355.5 31.3M333.8 29.9L346.4 2.7M294.6 -14L285.5 -24.8M294.6 -14L309.2 -18.2M361 59.4L355.5 31.3M361 59.4L383.1 61.8M361 59.4L377.8 36.4M323.9 3.1L309.2 -18.2M323.9 3.1L346.4 2.7M323.9 3.1L333.6 -19.9M355.5 31.3L346.4 2.7M355.5 31.3L377.8 36.4M355.5 31.3L370.9 11.8M309.2 -18.2L333.6 -19.9M383.1 61.8L377.8 36.4M383.1 61.8L398.1 67.5M383.1 61.8L397.6 43.1M346.4 2.7L333.6 -19.9M346.4 2.7L370.9 11.8M346.4 2.7L353.7 -20.8M346.4 2.7L378.1 -11.9M377.8 36.4L370.9 11.8M377.8 36.4L397.6 43.1M377.8 36.4L389.8 15M333.6 -19.9L353.7 -20.8M398.1 67.5L397.6 43.1M398.1 67.5L412.3 66.5M398.1 67.5L412 46.6M370.9 11.8L389.8 15M370.9 11.8L378.1 -11.9M397.6 43.1L389.8 15M397.6 43.1L412 46.6M397.6 43.1L408.2 21.1M353.7 -20.8L378.1 -11.9M412.3 66.5L412 46.6M412.3 66.5L420.7 62.8M412.3 66.5L424.1 47.4M389.8 15L378.1 -11.9M389.8 15L408.2 21.1M389.8 15L400 -7.3M412 46.6L408.2 21.1M412 46.6L424.1 47.4M412 46.6L423.4 27.3M378.1 -11.9L400 -7.3M420.7 62.8L424.1 47.4M420.7 62.8L432.1 39M408.2 21.1L400 -7.3M408.2 21.1L423.4 27.3M408.2 21.1L416.5 -6.3M424.1 47.4L423.4 27.3M424.1 47.4L432.1 39M424.1 47.4L432.7 19.6M400 -7.3L416.5 -6.3M423.4 27.3L416.5 -6.3M423.4 27.3L432.7 19.6M423.4 27.3L427.7 -6.3M432.1 39L432.7 19.6M432.1 39L434.1 28.2M432.1 39L435.8 10M416.5 -6.3L427.7 -6.3M432.7 19.6L427.7 -6.3M432.7 19.6L435.8 10M434.1 28.2L435.8 10M427.7 -6.3L435.8 10M427.7 -6.3L430.7 -13.9M435.8 10L430.7 -13.9" fill="none" stroke="#96d7ff" stroke-opacity="0.7" stroke-width="0.5"/>
<g fill="url(#dotglow)" fill-opacity="0.8"><circle cx="283.2" cy="49.4" r="2.2"/><circle cx="312.7" cy="29.7" r="3.7"/><circle cx="272.9" cy="-12.3" r="3.3"/><circle cx="309.2" cy="-18.2" r="4.3"/><circle cx="346.4" cy="2.7" r="3.8"/><circle cx="424.1" cy="47.4" r="5"/><circle cx="423.4" cy="27.3" r="3.1"/><circle cx="416.5" cy="-6.3" r="4"/><circle cx="427.7" cy="-6.3" r="2.5"/><circle cx="375.6" cy="34" r="3.1"/><circle cx="381.2" cy="-28.3" r="3.5"/><circle cx="337.8" cy="68.9" r="3.6"/><circle cx="321.9" cy="64.9" r="3.9"/><circle cx="321.2" cy="55.3" r="2.7"/><circle cx="351.1" cy="30.1" r="2.5"/><circle cx="413.4" cy="50.9" r="3.9"/><circle cx="294.3" cy="-19.3" r="2.8"/><circle cx="317.8" cy="61" r="4.1"/><circle cx="326.2" cy="8.3" r="2.5"/><circle cx="415.8" cy="29.3" r="4.2"/><circle cx="393.3" cy="68.5" r="2.5"/></g>
<g fill="#e4f5ff"><circle cx="303" cy="76.6" r="0.8"/><circle cx="283.2" cy="49.4" r="0.5"/><circle cx="310.6" cy="69" r="0.8"/><circle cx="273.9" cy="43.7" r="0.7"/><circle cx="274.5" cy="26.9" r="0.7"/><circle cx="271.3" cy="37.1" r="1.1"/><circle cx="288.6" cy="18.7" r="1.2"/><circle cx="268.7" cy="14.7" r="1.1"/><circle cx="312.7" cy="29.7" r="0.8"/><circle cx="269.3" cy="7.8" r="1.1"/><circle cx="333.8" cy="29.9" r="0.7"/><circle cx="294.6" cy="-14" r="0.6"/><circle cx="272.9" cy="-12.3" r="0.7"/><circle cx="323.9" cy="3.1" r="0.5"/><circle cx="355.5" cy="31.3" r="1.1"/><circle cx="309.2" cy="-18.2" r="1"/><circle cx="346.4" cy="2.7" r="0.8"/><circle cx="377.8" cy="36.4" r="0.8"/><circle cx="333.6" cy="-19.9" r="0.9"/><circle cx="398.1" cy="67.5" r="0.5"/><circle cx="397.6" cy="43.1" r="0.8"/><circle cx="353.7" cy="-20.8" r="0.6"/><circle cx="412.3" cy="66.5" r="0.5"/><circle cx="389.8" cy="15" r="0.8"/><circle cx="412" cy="46.6" r="1.2"/><circle cx="420.7" cy="62.8" r="1"/><circle cx="424.1" cy="47.4" r="1.1"/><circle cx="423.4" cy="27.3" r="0.7"/><circle cx="416.5" cy="-6.3" r="0.9"/><circle cx="432.7" cy="19.6" r="1.1"/><circle cx="434.1" cy="28.2" r="1"/><circle cx="427.7" cy="-6.3" r="0.6"/><circle cx="435.8" cy="10" r="0.8"/></g>
<circle cx="318.6" cy="24.6" r="20.7" fill="url(#halo)" opacity="0.4"/><path d="M308.8 11.1L313.7 14L314.4 6.4L318.3 12.9L321.2 9.8L322.9 13.7L328.8 8.9L326.8 16.2L331.7 15.8L329.4 20.1L334.6 21.5L330.3 24.7L336.3 28.4L329.3 29.3L331.9 33.9L326.7 33.1L327.6 38.9L322.7 35.6L318.6 24.6Z" fill="#3f9dea" fill-opacity="0.75"/><circle cx="318.6" cy="24.6" r="9" fill="#04152d" stroke="#7fc4f5" stroke-width="0.8"/>
<circle cx="365.4" cy="33.5" r="23.0" fill="url(#halo)" opacity="0.4"/><path d="M355.2 19.5L360 21.7L361.4 16.5L365 20.5L368.9 13.7L370.2 21.4L374.4 19.7L374.5 24.2L381.1 22.9L377.4 28.5L384.7 29.7L378.4 33.6L382 37L377.3 38.7L378.7 42.8L374.4 42.9L374.6 48.2L370 45.7L365.4 33.5Z" fill="#3f9dea" fill-opacity="0.75"/><circle cx="365.4" cy="33.5" r="10" fill="#04152d" stroke="#7fc4f5" stroke-width="0.8"/>
<path d="M405 20 L440 53 L420 53 Z" fill="#3f9dea" fill-opacity="0.6"/>
<circle cx="880" cy="12" r="100" fill="url(#sphglow)" opacity="0.45"/>
<circle cx="880" cy="12" r="80" fill="#06224a"/>
<g fill="#46a0eb">
<path d="M803.7 23.8L801.3 -2.3L801 22.4Z" fill-opacity="0.40"/>
<path d="M839.1 -14.2L825.1 0.5L829.5 -27.7Z" fill-opacity="0.19"/>
<path d="M813 14.9L832.6 24.1L825.1 0.5Z" fill-opacity="0.25"/>
<path d="M854.4 37.8L832.6 24.1L833.5 48.1Z" fill-opacity="0.21"/>
<path d="M854.4 37.8L856.1 54.3L833.5 48.1Z" fill-opacity="0.15"/>
<path d="M846.3 9.4L832.6 24.1L825.1 0.5Z" fill-opacity="0.26"/>
<path d="M846.3 9.4L839.1 -14.2L825.1 0.5Z" fill-opacity="0.20"/>
<path d="M846.3 9.4L854.4 37.8L868.7 8.9Z" fill-opacity="0.06"/>
<path d="M846.3 9.4L854.4 37.8L832.6 24.1Z" fill-opacity="0.11"/>
<path d="M803.7 0.1L813 14.9L803.7 23.8Z" fill-opacity="0.54"/>
<path d="M803.7 0.1L807.3 -21L801.3 -2.3Z" fill-opacity="0.44"/>
<path d="M803.7 0.1L803.7 23.8L801.3 -2.3Z" fill-opacity="0.60"/>
<path d="M817.8 35.3L832.6 24.1L833.5 48.1Z" fill-opacity="0.30"/>
<path d="M817.8 35.3L813 14.9L832.6 24.1Z" fill-opacity="0.46"/>
<path d="M817.8 35.3L828.5 62.3L833.5 48.1Z" fill-opacity="0.31"/>
<path d="M817.8 35.3L810.1 42.7L828.5 62.3Z" fill-opacity="0.42"/>
<path d="M817.8 35.3L813 14.9L803.7 23.8Z" fill-opacity="0.60"/>
<path d="M817.8 35.3L810.1 42.7L803.7 23.8Z" fill-opacity="0.44"/>
<path d="M823.4 67.5L810.1 42.7L828.5 62.3Z" fill-opacity="0.41"/>
<path d="M854.3 70.4L879.5 71.4L856.1 54.3Z" fill-opacity="0.08"/>
<path d="M854.3 70.4L828.5 62.3L833.5 48.1Z" fill-opacity="0.23"/>
<path d="M854.3 70.4L856.1 54.3L833.5 48.1Z" fill-opacity="0.24"/>
<path d="M881.6 52.2L854.4 37.8L856.1 54.3Z" fill-opacity="0.05"/>
<path d="M881.6 52.2L879.5 71.4L856.1 54.3Z" fill-opacity="0.06"/>
<path d="M811.8 -12.8L803.7 0.1L807.3 -21Z" fill-opacity="0.37"/>
<path d="M811.8 -12.8L825.1 0.5L829.5 -27.7Z" fill-opacity="0.30"/>
<path d="M811.8 -12.8L813 14.9L825.1 0.5Z" fill-opacity="0.28"/>
<path d="M811.8 -12.8L803.7 0.1L813 14.9Z" fill-opacity="0.36"/>
<path d="M807.7 46.3L823.4 67.5L810.1 42.7Z" fill-opacity="0.44"/>
<path d="M807.7 46.3L803.7 23.8L801 22.4Z" fill-opacity="0.47"/>
<path d="M807.7 46.3L810.1 42.7L803.7 23.8Z" fill-opacity="0.51"/>
<path d="M869.6 -16.7L846.3 9.4L868.7 8.9Z" fill-opacity="0.05"/>
<path d="M869.6 -16.7L846.3 9.4L839.1 -14.2Z" fill-opacity="0.04"/>
<path d="M878.5 32.7L854.4 37.8L868.7 8.9Z" fill-opacity="0.05"/>
<path d="M878.5 32.7L881.6 52.2L854.4 37.8Z" fill-opacity="0.05"/>
</g>
<path d="M904.2 60.5L879.5 71.4M904.2 60.5L881.6 52.2M879.5 71.4L854.3 70.4M879.5 71.4L881.6 52.2M879.5 71.4L856.1 54.3M823.4 67.5L807.7 46.3M823.4 67.5L828.5 62.3M823.4 67.5L810.1 42.7M904.8 39.2L881.6 52.2M904.8 39.2L899.7 19.2M904.8 39.2L878.5 32.7M854.3 70.4L828.5 62.3M854.3 70.4L856.1 54.3M854.3 70.4L833.5 48.1M807.7 46.3L801 22.4M807.7 46.3L810.1 42.7M807.7 46.3L803.7 23.8M881.6 52.2L856.1 54.3M881.6 52.2L878.5 32.7M881.6 52.2L854.4 37.8M828.5 62.3L810.1 42.7M828.5 62.3L833.5 48.1M828.5 62.3L817.8 35.3M899.7 19.2L878.5 32.7M899.7 19.2L888.2 0.4M899.7 19.2L868.7 8.9M801 22.4L801.3 -2.3M801 22.4L803.7 23.8M856.1 54.3L833.5 48.1M856.1 54.3L854.4 37.8M810.1 42.7L803.7 23.8M810.1 42.7L817.8 35.3M878.5 32.7L854.4 37.8M878.5 32.7L868.7 8.9M801.3 -2.3L803.7 23.8M801.3 -2.3L807.3 -21M801.3 -2.3L803.7 0.1M833.5 48.1L854.4 37.8M833.5 48.1L817.8 35.3M833.5 48.1L832.6 24.1M888.2 0.4L884.2 -29M888.2 0.4L868.7 8.9M888.2 0.4L869.6 -16.7M803.7 23.8L817.8 35.3M803.7 23.8L803.7 0.1M803.7 23.8L813 14.9M854.4 37.8L868.7 8.9M854.4 37.8L832.6 24.1M854.4 37.8L846.3 9.4M807.3 -21L803.7 0.1M807.3 -21L811.8 -12.8M884.2 -29L869.6 -16.7M817.8 35.3L832.6 24.1M817.8 35.3L813 14.9M868.7 8.9L869.6 -16.7M868.7 8.9L846.3 9.4M803.7 0.1L813 14.9M803.7 0.1L811.8 -12.8M832.6 24.1L813 14.9M832.6 24.1L846.3 9.4M832.6 24.1L825.1 0.5M869.6 -16.7L846.3 9.4M869.6 -16.7L839.1 -14.2M813 14.9L811.8 -12.8M813 14.9L825.1 0.5M846.3 9.4L825.1 0.5M846.3 9.4L839.1 -14.2M811.8 -12.8L825.1 0.5M811.8 -12.8L829.5 -27.7M825.1 0.5L829.5 -27.7M825.1 0.5L839.1 -14.2M829.5 -27.7L839.1 -14.2" fill="none" stroke="#96d7ff" stroke-opacity="0.8" stroke-width="0.7"/>
<g fill="url(#dotglow)" fill-opacity="0.8"><circle cx="879.5" cy="71.4" r="6.5"/><circle cx="854.3" cy="70.4" r="7.3"/><circle cx="828.5" cy="62.3" r="6.5"/><circle cx="899.7" cy="19.2" r="6.9"/><circle cx="833.5" cy="48.1" r="4.1"/><circle cx="832.6" cy="24.1" r="6.2"/><circle cx="811.8" cy="-12.8" r="5"/><circle cx="829.5" cy="-27.7" r="6.2"/><circle cx="902.3" cy="-22.1" r="3.6"/><circle cx="901.5" cy="-45.1" r="5.3"/><circle cx="922.2" cy="67.4" r="5.4"/><circle cx="861.6" cy="-27" r="4.4"/><circle cx="870.3" cy="-41.2" r="3.4"/><circle cx="917.5" cy="-19" r="4"/><circle cx="882.3" cy="7.1" r="5.2"/><circle cx="882.1" cy="51.7" r="5.4"/><circle cx="814.4" cy="33.2" r="5.4"/><circle cx="921.5" cy="-41.8" r="4.7"/><circle cx="855.1" cy="-30.4" r="4.6"/></g>
<g fill="#e4f5ff"><circle cx="879.5" cy="71.4" r="1.4"/><circle cx="823.4" cy="67.5" r="0.8"/><circle cx="904.8" cy="39.2" r="1.3"/><circle cx="854.3" cy="70.4" r="1.6"/><circle cx="881.6" cy="52.2" r="1.2"/><circle cx="828.5" cy="62.3" r="1.4"/><circle cx="899.7" cy="19.2" r="1.5"/><circle cx="810.1" cy="42.7" r="1.4"/><circle cx="878.5" cy="32.7" r="1.3"/><circle cx="801.3" cy="-2.3" r="1"/><circle cx="833.5" cy="48.1" r="0.9"/><circle cx="803.7" cy="23.8" r="1.3"/><circle cx="807.3" cy="-21" r="0.8"/><circle cx="832.6" cy="24.1" r="1.4"/><circle cx="869.6" cy="-16.7" r="1.1"/><circle cx="813" cy="14.9" r="0.7"/><circle cx="811.8" cy="-12.8" r="1.1"/><circle cx="825.1" cy="0.5" r="1.4"/><circle cx="829.5" cy="-27.7" r="1.4"/><circle cx="839.1" cy="-14.2" r="1.1"/></g>
<path d="M838 0 L852 0 L836 30 L842 53 L828 53 L824 30 Z" fill="#04101f" fill-opacity="0.85"/>
<path d="M590 53 L602 46 L611 47.5 L624 51 L620 53 Z" fill="#1c6bb5" fill-opacity="0.45" stroke="#9fd8ff" stroke-width="0.5" stroke-opacity="0.8"/>
<circle cx="580" cy="1075" r="236" fill="url(#sphglow)" opacity="0.7"/>
<circle cx="601" cy="1082" r="194.5" fill="url(#big)"/>
<g clip-path="url(#cBig)">
<g fill="#1e78d7">
<path d="M435.4 980.1L459.4 952.8L426 1003.3Z" fill-opacity="0.74"/>
<path d="M435.4 980.1L414 1028.8L426 1003.3Z" fill-opacity="0.80"/>
<path d="M598.5 892.1L553.7 897.8L599.5 887.6Z" fill-opacity="0.80"/>
<path d="M598.5 892.1L608.7 903.3L575.1 909.2Z" fill-opacity="0.67"/>
<path d="M598.5 892.1L553.7 897.8L575.1 909.2Z" fill-opacity="0.71"/>
<path d="M524.5 921.4L553.7 897.8L575.1 909.2Z" fill-opacity="0.80"/>
<path d="M448.3 980.7L459.4 952.8L426 1003.3Z" fill-opacity="0.80"/>
<path d="M448.3 980.7L459.4 952.8L488.2 954.7Z" fill-opacity="0.67"/>
<path d="M448.3 980.7L450.3 1012.2L488.2 954.7Z" fill-opacity="0.51"/>
<path d="M659.8 959.9L648.4 925.9L691.2 952.1Z" fill-opacity="0.18"/>
<path d="M732.6 987L720.6 950L691.2 952.1Z" fill-opacity="0.04"/>
<path d="M552 894L553.7 897.8L599.5 887.6Z" fill-opacity="0.48"/>
<path d="M613 929.6L608.7 903.3L575.1 909.2Z" fill-opacity="0.40"/>
<path d="M613 929.6L648.4 925.9L608.7 903.3Z" fill-opacity="0.48"/>
<path d="M613 929.6L659.8 959.9L615.7 967.2Z" fill-opacity="0.39"/>
<path d="M613 929.6L659.8 959.9L648.4 925.9Z" fill-opacity="0.26"/>
<path d="M513.1 911.9L524.5 921.4L553.7 897.8Z" fill-opacity="0.80"/>
<path d="M513.1 911.9L552 894L553.7 897.8Z" fill-opacity="0.80"/>
<path d="M518 949.7L524.5 921.4L488.2 954.7Z" fill-opacity="0.63"/>
<path d="M455.9 1040.4L491 1027.6L473.3 1084.6Z" fill-opacity="0.47"/>
<path d="M455.9 1040.4L432.8 1066.1L473.3 1084.6Z" fill-opacity="0.34"/>
<path d="M455.9 1040.4L432.8 1066.1L450.3 1012.2Z" fill-opacity="0.75"/>
<path d="M422.9 1036.4L432.8 1066.1L450.3 1012.2Z" fill-opacity="0.80"/>
<path d="M422.9 1036.4L448.3 980.7L426 1003.3Z" fill-opacity="0.80"/>
<path d="M422.9 1036.4L448.3 980.7L450.3 1012.2Z" fill-opacity="0.48"/>
<path d="M593.8 1045.3L558.9 1098.9L601.1 1088.7Z" fill-opacity="0.21"/>
<path d="M593.8 1045.3L631.4 1039L601.1 1088.7Z" fill-opacity="0.06"/>
<path d="M668.4 998.7L631.4 1039L687.9 1038.3Z" fill-opacity="0.06"/>
<path d="M668.4 998.7L659.8 959.9L615.7 967.2Z" fill-opacity="0.17"/>
<path d="M443.8 1109.6L480.4 1128.8L473.3 1084.6Z" fill-opacity="0.28"/>
<path d="M443.8 1109.6L432.8 1066.1L473.3 1084.6Z" fill-opacity="0.28"/>
<path d="M520.2 1112.7L480.4 1128.8L473.3 1084.6Z" fill-opacity="0.27"/>
<path d="M520.2 1112.7L565.8 1139.5L558.9 1098.9Z" fill-opacity="0.11"/>
<path d="M679.9 921.8L720.6 950L691.2 952.1Z" fill-opacity="0.12"/>
<path d="M679.9 921.8L648.4 925.9L691.2 952.1Z" fill-opacity="0.30"/>
<path d="M495.7 930.2L524.5 921.4L488.2 954.7Z" fill-opacity="0.80"/>
<path d="M495.7 930.2L513.1 911.9L524.5 921.4Z" fill-opacity="0.80"/>
<path d="M495.7 930.2L459.4 952.8L488.2 954.7Z" fill-opacity="0.65"/>
<path d="M495.7 930.2L459.4 952.8L477.7 931.6Z" fill-opacity="0.80"/>
<path d="M495.7 930.2L513.1 911.9L477.7 931.6Z" fill-opacity="0.80"/>
<path d="M481.2 993L518 949.7L488.2 954.7Z" fill-opacity="0.78"/>
<path d="M481.2 993L450.3 1012.2L488.2 954.7Z" fill-opacity="0.46"/>
<path d="M481.2 993L455.9 1040.4L450.3 1012.2Z" fill-opacity="0.63"/>
<path d="M481.2 993L455.9 1040.4L491 1027.6Z" fill-opacity="0.37"/>
<path d="M571.2 936.2L613 929.6L615.7 967.2Z" fill-opacity="0.31"/>
<path d="M571.2 936.2L613 929.6L575.1 909.2Z" fill-opacity="0.60"/>
<path d="M571.2 936.2L524.5 921.4L575.1 909.2Z" fill-opacity="0.57"/>
<path d="M571.2 936.2L518 949.7L524.5 921.4Z" fill-opacity="0.79"/>
<path d="M414.9 1089.6L422.9 1036.4L432.8 1066.1Z" fill-opacity="0.72"/>
<path d="M414.9 1089.6L413.5 1125.5L431.8 1132.2Z" fill-opacity="0.25"/>
<path d="M414.9 1089.6L413.5 1125.5L406.7 1091.6Z" fill-opacity="0.38"/>
<path d="M414.9 1089.6L443.8 1109.6L431.8 1132.2Z" fill-opacity="0.51"/>
<path d="M414.9 1089.6L443.8 1109.6L432.8 1066.1Z" fill-opacity="0.44"/>
<path d="M524.1 983.5L481.2 993L491 1027.6Z" fill-opacity="0.73"/>
<path d="M524.1 983.5L481.2 993L518 949.7Z" fill-opacity="0.80"/>
<path d="M544.4 1054.3L593.8 1045.3L558.9 1098.9Z" fill-opacity="0.21"/>
<path d="M707 998.9L659.8 959.9L691.2 952.1Z" fill-opacity="0.08"/>
<path d="M707 998.9L668.4 998.7L659.8 959.9Z" fill-opacity="0.05"/>
<path d="M624.1 1003.8L668.4 998.7L615.7 967.2Z" fill-opacity="0.23"/>
<path d="M624.1 1003.8L668.4 998.7L631.4 1039Z" fill-opacity="0.06"/>
<path d="M624.1 1003.8L593.8 1045.3L631.4 1039Z" fill-opacity="0.16"/>
<path d="M643.9 892.6L598.5 892.1L599.5 887.6Z" fill-opacity="0.66"/>
<path d="M643.9 892.6L670.5 901.6L695.5 914.4Z" fill-opacity="0.23"/>
<path d="M410.1 1060.6L414.9 1089.6L406.7 1091.6Z" fill-opacity="0.46"/>
<path d="M410.1 1060.6L414.9 1089.6L422.9 1036.4Z" fill-opacity="0.77"/>
<path d="M410.1 1060.6L414 1028.8L426 1003.3Z" fill-opacity="0.63"/>
<path d="M410.1 1060.6L422.9 1036.4L426 1003.3Z" fill-opacity="0.80"/>
<path d="M506.1 1070.4L520.2 1112.7L558.9 1098.9Z" fill-opacity="0.29"/>
<path d="M506.1 1070.4L544.4 1054.3L558.9 1098.9Z" fill-opacity="0.18"/>
<path d="M506.1 1070.4L520.2 1112.7L473.3 1084.6Z" fill-opacity="0.22"/>
<path d="M506.1 1070.4L491 1027.6L473.3 1084.6Z" fill-opacity="0.53"/>
<path d="M532.7 1020.1L524.1 983.5L491 1027.6Z" fill-opacity="0.59"/>
<path d="M532.7 1020.1L506.1 1070.4L491 1027.6Z" fill-opacity="0.36"/>
<path d="M532.7 1020.1L506.1 1070.4L544.4 1054.3Z" fill-opacity="0.29"/>
<path d="M649 1085.9L631.4 1039L601.1 1088.7Z" fill-opacity="0.04"/>
<path d="M702.1 916.4L670.5 901.6L695.5 914.4Z" fill-opacity="0.28"/>
<path d="M651.6 901.5L679.9 921.8L695.5 914.4Z" fill-opacity="0.24"/>
<path d="M651.6 901.5L643.9 892.6L695.5 914.4Z" fill-opacity="0.39"/>
<path d="M651.6 901.5L648.4 925.9L608.7 903.3Z" fill-opacity="0.29"/>
<path d="M651.6 901.5L679.9 921.8L648.4 925.9Z" fill-opacity="0.33"/>
<path d="M651.6 901.5L598.5 892.1L608.7 903.3Z" fill-opacity="0.62"/>
<path d="M651.6 901.5L643.9 892.6L598.5 892.1Z" fill-opacity="0.57"/>
<path d="M575 1004.9L544.4 1054.3L593.8 1045.3Z" fill-opacity="0.19"/>
<path d="M575 1004.9L532.7 1020.1L544.4 1054.3Z" fill-opacity="0.30"/>
<path d="M575 1004.9L624.1 1003.8L593.8 1045.3Z" fill-opacity="0.18"/>
<path d="M575 1004.9L624.1 1003.8L615.7 967.2Z" fill-opacity="0.26"/>
<path d="M575 1004.9L532.7 1020.1L524.1 983.5Z" fill-opacity="0.60"/>
<path d="M725.8 938.4L702.1 916.4L695.5 914.4Z" fill-opacity="0.09"/>
<path d="M725.8 938.4L679.9 921.8L720.6 950Z" fill-opacity="0.12"/>
<path d="M725.8 938.4L679.9 921.8L695.5 914.4Z" fill-opacity="0.17"/>
<path d="M739.9 946.4L725.8 938.4L702.1 916.4Z" fill-opacity="0.08"/>
<path d="M567.7 966.9L571.2 936.2L615.7 967.2Z" fill-opacity="0.41"/>
<path d="M567.7 966.9L575 1004.9L615.7 967.2Z" fill-opacity="0.47"/>
<path d="M567.7 966.9L575 1004.9L524.1 983.5Z" fill-opacity="0.53"/>
<path d="M567.7 966.9L571.2 936.2L518 949.7Z" fill-opacity="0.69"/>
<path d="M567.7 966.9L524.1 983.5L518 949.7Z" fill-opacity="0.65"/>
</g>
<g fill="#aae4fa">
<path d="M435.4 980.1L459.4 952.8L426 1003.3Z" fill-opacity="0.51"/>
<path d="M435.4 980.1L414 1028.8L426 1003.3Z" fill-opacity="0.39"/>
<path d="M598.5 892.1L553.7 897.8L599.5 887.6Z" fill-opacity="0.95"/>
<path d="M598.5 892.1L608.7 903.3L575.1 909.2Z" fill-opacity="0.75"/>
<path d="M598.5 892.1L553.7 897.8L575.1 909.2Z" fill-opacity="0.82"/>
<path d="M524.5 921.4L553.7 897.8L575.1 909.2Z" fill-opacity="0.95"/>
<path d="M448.3 980.7L459.4 952.8L426 1003.3Z" fill-opacity="0.57"/>
<path d="M448.3 980.7L459.4 952.8L488.2 954.7Z" fill-opacity="0.56"/>
<path d="M448.3 980.7L450.3 1012.2L488.2 954.7Z" fill-opacity="0.31"/>
<path d="M659.8 959.9L648.4 925.9L691.2 952.1Z" fill-opacity="0.09"/>
<path d="M552 894L553.7 897.8L599.5 887.6Z" fill-opacity="0.66"/>
<path d="M613 929.6L608.7 903.3L575.1 909.2Z" fill-opacity="0.37"/>
<path d="M613 929.6L648.4 925.9L608.7 903.3Z" fill-opacity="0.39"/>
<path d="M613 929.6L659.8 959.9L615.7 967.2Z" fill-opacity="0.18"/>
<path d="M613 929.6L659.8 959.9L648.4 925.9Z" fill-opacity="0.14"/>
<path d="M513.1 911.9L524.5 921.4L553.7 897.8Z" fill-opacity="0.95"/>
<path d="M513.1 911.9L552 894L553.7 897.8Z" fill-opacity="0.95"/>
<path d="M518 949.7L524.5 921.4L488.2 954.7Z" fill-opacity="0.56"/>
<path d="M455.9 1040.4L491 1027.6L473.3 1084.6Z" fill-opacity="0.05"/>
<path d="M455.9 1040.4L432.8 1066.1L450.3 1012.2Z" fill-opacity="0.17"/>
<path d="M422.9 1036.4L432.8 1066.1L450.3 1012.2Z" fill-opacity="0.20"/>
<path d="M422.9 1036.4L448.3 980.7L426 1003.3Z" fill-opacity="0.38"/>
<path d="M422.9 1036.4L448.3 980.7L450.3 1012.2Z" fill-opacity="0.21"/>
<path d="M668.4 998.7L659.8 959.9L615.7 967.2Z" fill-opacity="0.04"/>
<path d="M679.9 921.8L720.6 950L691.2 952.1Z" fill-opacity="0.07"/>
<path d="M679.9 921.8L648.4 925.9L691.2 952.1Z" fill-opacity="0.16"/>
<path d="M495.7 930.2L524.5 921.4L488.2 954.7Z" fill-opacity="0.77"/>
<path d="M495.7 930.2L513.1 911.9L524.5 921.4Z" fill-opacity="0.95"/>
<path d="M495.7 930.2L459.4 952.8L488.2 954.7Z" fill-opacity="0.55"/>
<path d="M495.7 930.2L459.4 952.8L477.7 931.6Z" fill-opacity="0.95"/>
<path d="M495.7 930.2L513.1 911.9L477.7 931.6Z" fill-opacity="0.95"/>
<path d="M481.2 993L518 949.7L488.2 954.7Z" fill-opacity="0.45"/>
<path d="M481.2 993L450.3 1012.2L488.2 954.7Z" fill-opacity="0.28"/>
<path d="M481.2 993L455.9 1040.4L450.3 1012.2Z" fill-opacity="0.19"/>
<path d="M481.2 993L455.9 1040.4L491 1027.6Z" fill-opacity="0.11"/>
<path d="M571.2 936.2L613 929.6L615.7 967.2Z" fill-opacity="0.18"/>
<path d="M571.2 936.2L613 929.6L575.1 909.2Z" fill-opacity="0.49"/>
<path d="M571.2 936.2L524.5 921.4L575.1 909.2Z" fill-opacity="0.52"/>
<path d="M571.2 936.2L518 949.7L524.5 921.4Z" fill-opacity="0.67"/>
<path d="M414.9 1089.6L422.9 1036.4L432.8 1066.1Z" fill-opacity="0.10"/>
<path d="M524.1 983.5L481.2 993L491 1027.6Z" fill-opacity="0.24"/>
<path d="M524.1 983.5L481.2 993L518 949.7Z" fill-opacity="0.42"/>
<path d="M624.1 1003.8L668.4 998.7L615.7 967.2Z" fill-opacity="0.05"/>
<path d="M643.9 892.6L598.5 892.1L599.5 887.6Z" fill-opacity="0.78"/>
<path d="M643.9 892.6L670.5 901.6L695.5 914.4Z" fill-opacity="0.23"/>
<path d="M410.1 1060.6L414.9 1089.6L406.7 1091.6Z" fill-opacity="0.04"/>
<path d="M410.1 1060.6L414.9 1089.6L422.9 1036.4Z" fill-opacity="0.12"/>
<path d="M410.1 1060.6L414 1028.8L426 1003.3Z" fill-opacity="0.20"/>
<path d="M410.1 1060.6L422.9 1036.4L426 1003.3Z" fill-opacity="0.25"/>
<path d="M506.1 1070.4L491 1027.6L473.3 1084.6Z" fill-opacity="0.05"/>
<path d="M532.7 1020.1L524.1 983.5L491 1027.6Z" fill-opacity="0.15"/>
<path d="M532.7 1020.1L506.1 1070.4L491 1027.6Z" fill-opacity="0.04"/>
<path d="M702.1 916.4L670.5 901.6L695.5 914.4Z" fill-opacity="0.26"/>
<path d="M651.6 901.5L679.9 921.8L695.5 914.4Z" fill-opacity="0.20"/>
<path d="M651.6 901.5L643.9 892.6L695.5 914.4Z" fill-opacity="0.37"/>
<path d="M651.6 901.5L648.4 925.9L608.7 903.3Z" fill-opacity="0.26"/>
<path d="M651.6 901.5L679.9 921.8L648.4 925.9Z" fill-opacity="0.27"/>
<path d="M651.6 901.5L598.5 892.1L608.7 903.3Z" fill-opacity="0.65"/>
<path d="M651.6 901.5L643.9 892.6L598.5 892.1Z" fill-opacity="0.63"/>
<path d="M575 1004.9L532.7 1020.1L544.4 1054.3Z" fill-opacity="0.03"/>
<path d="M575 1004.9L624.1 1003.8L615.7 967.2Z" fill-opacity="0.06"/>
<path d="M575 1004.9L532.7 1020.1L524.1 983.5Z" fill-opacity="0.16"/>
<path d="M725.8 938.4L702.1 916.4L695.5 914.4Z" fill-opacity="0.09"/>
<path d="M725.8 938.4L679.9 921.8L720.6 950Z" fill-opacity="0.08"/>
<path d="M725.8 938.4L679.9 921.8L695.5 914.4Z" fill-opacity="0.12"/>
<path d="M739.9 946.4L725.8 938.4L702.1 916.4Z" fill-opacity="0.07"/>
<path d="M567.7 966.9L571.2 936.2L615.7 967.2Z" fill-opacity="0.21"/>
<path d="M567.7 966.9L575 1004.9L615.7 967.2Z" fill-opacity="0.13"/>
<path d="M567.7 966.9L575 1004.9L524.1 983.5Z" fill-opacity="0.16"/>
<path d="M567.7 966.9L571.2 936.2L518 949.7Z" fill-opacity="0.41"/>
<path d="M567.7 966.9L524.1 983.5L518 949.7Z" fill-opacity="0.36"/>
</g>
<circle cx="610" cy="1102" r="152" fill="#051730" fill-opacity="0.8"/>
<path d="M476 1030 A152 152 0 0 1 738 1020" fill="none" stroke="#020814" stroke-opacity="0.8" stroke-width="9"/>
<g fill="#2882dc">
<path d="M435.4 980.1L459.4 952.8L426 1003.3Z" fill-opacity="0.14"/>
<path d="M435.4 980.1L414 1028.8L426 1003.3Z" fill-opacity="0.15"/>
<path d="M598.5 892.1L553.7 897.8L599.5 887.6Z" fill-opacity="0.25"/>
<path d="M598.5 892.1L608.7 903.3L575.1 909.2Z" fill-opacity="0.25"/>
<path d="M598.5 892.1L553.7 897.8L575.1 909.2Z" fill-opacity="0.25"/>
<path d="M524.5 921.4L553.7 897.8L575.1 909.2Z" fill-opacity="0.25"/>
<path d="M448.3 980.7L459.4 952.8L426 1003.3Z" fill-opacity="0.20"/>
<path d="M448.3 980.7L459.4 952.8L488.2 954.7Z" fill-opacity="0.14"/>
<path d="M448.3 980.7L450.3 1012.2L488.2 954.7Z" fill-opacity="0.07"/>
<path d="M659.8 959.9L648.4 925.9L691.2 952.1Z" fill-opacity="0.12"/>
<path d="M732.6 987L720.6 950L691.2 952.1Z" fill-opacity="0.19"/>
<path d="M552 894L553.7 897.8L599.5 887.6Z" fill-opacity="0.09"/>
<path d="M613 929.6L608.7 903.3L575.1 909.2Z" fill-opacity="0.13"/>
<path d="M613 929.6L648.4 925.9L608.7 903.3Z" fill-opacity="0.25"/>
<path d="M613 929.6L659.8 959.9L615.7 967.2Z" fill-opacity="0.25"/>
<path d="M613 929.6L659.8 959.9L648.4 925.9Z" fill-opacity="0.14"/>
<path d="M513.1 911.9L524.5 921.4L553.7 897.8Z" fill-opacity="0.25"/>
<path d="M513.1 911.9L552 894L553.7 897.8Z" fill-opacity="0.25"/>
<path d="M518 949.7L524.5 921.4L488.2 954.7Z" fill-opacity="0.17"/>
<path d="M455.9 1040.4L491 1027.6L473.3 1084.6Z" fill-opacity="0.18"/>
<path d="M455.9 1040.4L432.8 1066.1L473.3 1084.6Z" fill-opacity="0.06"/>
<path d="M455.9 1040.4L432.8 1066.1L450.3 1012.2Z" fill-opacity="0.25"/>
<path d="M422.9 1036.4L432.8 1066.1L450.3 1012.2Z" fill-opacity="0.25"/>
<path d="M422.9 1036.4L448.3 980.7L426 1003.3Z" fill-opacity="0.25"/>
<path d="M422.9 1036.4L448.3 980.7L450.3 1012.2Z" fill-opacity="0.05"/>
<path d="M593.8 1045.3L558.9 1098.9L601.1 1088.7Z" fill-opacity="0.25"/>
<path d="M593.8 1045.3L631.4 1039L601.1 1088.7Z" fill-opacity="0.14"/>
<path d="M668.4 998.7L631.4 1039L687.9 1038.3Z" fill-opacity="0.23"/>
<path d="M668.4 998.7L659.8 959.9L615.7 967.2Z" fill-opacity="0.14"/>
<path d="M751.6 976.5L732.6 987L720.6 950Z" fill-opacity="0.10"/>
<path d="M443.8 1109.6L480.4 1128.8L473.3 1084.6Z" fill-opacity="0.09"/>
<path d="M565.8 1139.5L558.9 1098.9L601.1 1088.7Z" fill-opacity="0.17"/>
<path d="M520.2 1112.7L480.4 1128.8L473.3 1084.6Z" fill-opacity="0.16"/>
<path d="M520.2 1112.7L565.8 1139.5L558.9 1098.9Z" fill-opacity="0.20"/>
<path d="M679.9 921.8L720.6 950L691.2 952.1Z" fill-opacity="0.14"/>
<path d="M679.9 921.8L648.4 925.9L691.2 952.1Z" fill-opacity="0.25"/>
<path d="M495.7 930.2L524.5 921.4L488.2 954.7Z" fill-opacity="0.25"/>
<path d="M495.7 930.2L513.1 911.9L524.5 921.4Z" fill-opacity="0.25"/>
<path d="M495.7 930.2L459.4 952.8L488.2 954.7Z" fill-opacity="0.13"/>
<path d="M495.7 930.2L459.4 952.8L477.7 931.6Z" fill-opacity="0.25"/>
<path d="M495.7 930.2L513.1 911.9L477.7 931.6Z" fill-opacity="0.25"/>
<path d="M481.2 993L518 949.7L488.2 954.7Z" fill-opacity="0.25"/>
<path d="M481.2 993L450.3 1012.2L488.2 954.7Z" fill-opacity="0.04"/>
<path d="M481.2 993L455.9 1040.4L450.3 1012.2Z" fill-opacity="0.22"/>
<path d="M481.2 993L455.9 1040.4L491 1027.6Z" fill-opacity="0.03"/>
<path d="M571.2 936.2L613 929.6L615.7 967.2Z" fill-opacity="0.10"/>
<path d="M571.2 936.2L613 929.6L575.1 909.2Z" fill-opacity="0.25"/>
<path d="M571.2 936.2L524.5 921.4L575.1 909.2Z" fill-opacity="0.19"/>
<path d="M571.2 936.2L518 949.7L524.5 921.4Z" fill-opacity="0.25"/>
<path d="M414.9 1089.6L422.9 1036.4L432.8 1066.1Z" fill-opacity="0.21"/>
<path d="M414.9 1089.6L413.5 1125.5L406.7 1091.6Z" fill-opacity="0.03"/>
<path d="M414.9 1089.6L443.8 1109.6L431.8 1132.2Z" fill-opacity="0.15"/>
<path d="M414.9 1089.6L443.8 1109.6L432.8 1066.1Z" fill-opacity="0.11"/>
<path d="M524.1 983.5L481.2 993L491 1027.6Z" fill-opacity="0.25"/>
<path d="M524.1 983.5L481.2 993L518 949.7Z" fill-opacity="0.25"/>
<path d="M544.4 1054.3L593.8 1045.3L558.9 1098.9Z" fill-opacity="0.25"/>
<path d="M707 998.9L668.4 998.7L687.9 1038.3Z" fill-opacity="0.24"/>
<path d="M707 998.9L732.6 987L691.2 952.1Z" fill-opacity="0.10"/>
<path d="M707 998.9L659.8 959.9L691.2 952.1Z" fill-opacity="0.15"/>
<path d="M624.1 1003.8L668.4 998.7L615.7 967.2Z" fill-opacity="0.25"/>
<path d="M624.1 1003.8L668.4 998.7L631.4 1039Z" fill-opacity="0.05"/>
<path d="M624.1 1003.8L593.8 1045.3L631.4 1039Z" fill-opacity="0.17"/>
<path d="M730.8 1076.5L689.6 1084.2L687.9 1038.3Z" fill-opacity="0.21"/>
<path d="M730.8 1076.5L733.5 1124.5L760.6 1078.1Z" fill-opacity="0.04"/>
<path d="M730.8 1076.5L689.6 1084.2L697.5 1124.4Z" fill-opacity="0.13"/>
<path d="M730.8 1076.5L733.5 1124.5L697.5 1124.4Z" fill-opacity="0.07"/>
<path d="M649.9 1131.1L689.6 1084.2L697.5 1124.4Z" fill-opacity="0.13"/>
<path d="M643.9 892.6L598.5 892.1L599.5 887.6Z" fill-opacity="0.25"/>
<path d="M643.9 892.6L670.5 901.6L695.5 914.4Z" fill-opacity="0.10"/>
<path d="M410.1 1060.6L414.9 1089.6L406.7 1091.6Z" fill-opacity="0.06"/>
<path d="M410.1 1060.6L414.9 1089.6L422.9 1036.4Z" fill-opacity="0.21"/>
<path d="M410.1 1060.6L414 1028.8L426 1003.3Z" fill-opacity="0.10"/>
<path d="M410.1 1060.6L422.9 1036.4L426 1003.3Z" fill-opacity="0.19"/>
<path d="M506.1 1070.4L520.2 1112.7L558.9 1098.9Z" fill-opacity="0.25"/>
<path d="M506.1 1070.4L544.4 1054.3L558.9 1098.9Z" fill-opacity="0.09"/>
<path d="M506.1 1070.4L520.2 1112.7L473.3 1084.6Z" fill-opacity="0.09"/>
<path d="M506.1 1070.4L491 1027.6L473.3 1084.6Z" fill-opacity="0.25"/>
<path d="M532.7 1020.1L524.1 983.5L491 1027.6Z" fill-opacity="0.25"/>
<path d="M532.7 1020.1L506.1 1070.4L491 1027.6Z" fill-opacity="0.16"/>
<path d="M532.7 1020.1L506.1 1070.4L544.4 1054.3Z" fill-opacity="0.11"/>
<path d="M771.2 1021.9L781.7 1016.3L751.6 976.5Z" fill-opacity="0.10"/>
<path d="M771.2 1021.9L751.6 976.5L732.6 987Z" fill-opacity="0.07"/>
<path d="M765.6 1118.9L733.5 1124.5L760.6 1078.1Z" fill-opacity="0.07"/>
<path d="M724 1036.3L707 998.9L732.6 987Z" fill-opacity="0.13"/>
<path d="M724 1036.3L707 998.9L687.9 1038.3Z" fill-opacity="0.20"/>
<path d="M724 1036.3L730.8 1076.5L687.9 1038.3Z" fill-opacity="0.10"/>
<path d="M649 1085.9L649.9 1131.1L689.6 1084.2Z" fill-opacity="0.08"/>
<path d="M649 1085.9L631.4 1039L601.1 1088.7Z" fill-opacity="0.13"/>
<path d="M649 1085.9L631.4 1039L687.9 1038.3Z" fill-opacity="0.19"/>
<path d="M649 1085.9L689.6 1084.2L687.9 1038.3Z" fill-opacity="0.22"/>
<path d="M609.5 1136.7L649 1085.9L649.9 1131.1Z" fill-opacity="0.14"/>
<path d="M702.1 916.4L670.5 901.6L695.5 914.4Z" fill-opacity="0.19"/>
<path d="M651.6 901.5L679.9 921.8L695.5 914.4Z" fill-opacity="0.16"/>
<path d="M651.6 901.5L643.9 892.6L695.5 914.4Z" fill-opacity="0.25"/>
<path d="M651.6 901.5L648.4 925.9L608.7 903.3Z" fill-opacity="0.09"/>
<path d="M651.6 901.5L679.9 921.8L648.4 925.9Z" fill-opacity="0.19"/>
<path d="M651.6 901.5L598.5 892.1L608.7 903.3Z" fill-opacity="0.25"/>
<path d="M651.6 901.5L643.9 892.6L598.5 892.1Z" fill-opacity="0.25"/>
<path d="M575 1004.9L544.4 1054.3L593.8 1045.3Z" fill-opacity="0.07"/>
<path d="M575 1004.9L532.7 1020.1L544.4 1054.3Z" fill-opacity="0.21"/>
<path d="M575 1004.9L624.1 1003.8L593.8 1045.3Z" fill-opacity="0.13"/>
<path d="M575 1004.9L624.1 1003.8L615.7 967.2Z" fill-opacity="0.16"/>
<path d="M575 1004.9L532.7 1020.1L524.1 983.5Z" fill-opacity="0.25"/>
<path d="M781.5 1074.9L771.2 1021.9L791.9 1057.6Z" fill-opacity="0.04"/>
<path d="M751.2 1032.9L781.5 1074.9L760.6 1078.1Z" fill-opacity="0.07"/>
<path d="M751.2 1032.9L781.5 1074.9L771.2 1021.9Z" fill-opacity="0.12"/>
<path d="M751.2 1032.9L730.8 1076.5L760.6 1078.1Z" fill-opacity="0.16"/>
<path d="M751.2 1032.9L724 1036.3L730.8 1076.5Z" fill-opacity="0.19"/>
<path d="M751.2 1032.9L724 1036.3L732.6 987Z" fill-opacity="0.13"/>
<path d="M725.8 938.4L702.1 916.4L695.5 914.4Z" fill-opacity="0.16"/>
<path d="M725.8 938.4L751.6 976.5L758.4 970.6Z" fill-opacity="0.09"/>
<path d="M725.8 938.4L751.6 976.5L720.6 950Z" fill-opacity="0.21"/>
<path d="M725.8 938.4L679.9 921.8L720.6 950Z" fill-opacity="0.14"/>
<path d="M725.8 938.4L679.9 921.8L695.5 914.4Z" fill-opacity="0.23"/>
<path d="M739.9 946.4L725.8 938.4L702.1 916.4Z" fill-opacity="0.14"/>
<path d="M567.7 966.9L571.2 936.2L615.7 967.2Z" fill-opacity="0.22"/>
<path d="M567.7 966.9L575 1004.9L615.7 967.2Z" fill-opacity="0.25"/>
<path d="M567.7 966.9L575 1004.9L524.1 983.5Z" fill-opacity="0.25"/>
<path d="M567.7 966.9L571.2 936.2L518 949.7Z" fill-opacity="0.25"/>
<path d="M567.7 966.9L524.1 983.5L518 949.7Z" fill-opacity="0.25"/>
</g>
<path d="M431.8 1132.2L413.5 1125.5M431.8 1132.2L443.8 1109.6M431.8 1132.2L414.9 1089.6M480.4 1128.8L443.8 1109.6M480.4 1128.8L520.2 1112.7M480.4 1128.8L473.3 1084.6M413.5 1125.5L414.9 1089.6M413.5 1125.5L406.7 1091.6M565.8 1139.5L520.2 1112.7M565.8 1139.5L609.5 1136.7M565.8 1139.5L558.9 1098.9M565.8 1139.5L601.1 1088.7M443.8 1109.6L414.9 1089.6M443.8 1109.6L473.3 1084.6M443.8 1109.6L432.8 1066.1M520.2 1112.7L473.3 1084.6M520.2 1112.7L558.9 1098.9M520.2 1112.7L506.1 1070.4M414.9 1089.6L406.7 1091.6M414.9 1089.6L432.8 1066.1M414.9 1089.6L410.1 1060.6M414.9 1089.6L422.9 1036.4M609.5 1136.7L649.9 1131.1M609.5 1136.7L601.1 1088.7M609.5 1136.7L649 1085.9M473.3 1084.6L432.8 1066.1M473.3 1084.6L506.1 1070.4M473.3 1084.6L455.9 1040.4M473.3 1084.6L491 1027.6M406.7 1091.6L410.1 1060.6M558.9 1098.9L506.1 1070.4M558.9 1098.9L601.1 1088.7M558.9 1098.9L544.4 1054.3M558.9 1098.9L593.8 1045.3M432.8 1066.1L455.9 1040.4M432.8 1066.1L422.9 1036.4M432.8 1066.1L450.3 1012.2M649.9 1131.1L697.5 1124.4M649.9 1131.1L649 1085.9M649.9 1131.1L689.6 1084.2M506.1 1070.4L544.4 1054.3M506.1 1070.4L491 1027.6M506.1 1070.4L532.7 1020.1M410.1 1060.6L422.9 1036.4M410.1 1060.6L414 1028.8M410.1 1060.6L426 1003.3M601.1 1088.7L649 1085.9M601.1 1088.7L593.8 1045.3M601.1 1088.7L631.4 1039M455.9 1040.4L491 1027.6M455.9 1040.4L450.3 1012.2M455.9 1040.4L481.2 993M697.5 1124.4L733.5 1124.5M697.5 1124.4L689.6 1084.2M697.5 1124.4L730.8 1076.5M544.4 1054.3L593.8 1045.3M544.4 1054.3L532.7 1020.1M544.4 1054.3L575 1004.9M422.9 1036.4L450.3 1012.2M422.9 1036.4L426 1003.3M422.9 1036.4L448.3 980.7M649 1085.9L689.6 1084.2M649 1085.9L631.4 1039M649 1085.9L687.9 1038.3M491 1027.6L532.7 1020.1M491 1027.6L481.2 993M491 1027.6L524.1 983.5M733.5 1124.5L765.6 1118.9M733.5 1124.5L730.8 1076.5M733.5 1124.5L760.6 1078.1M414 1028.8L426 1003.3M414 1028.8L435.4 980.1M593.8 1045.3L631.4 1039M593.8 1045.3L575 1004.9M593.8 1045.3L624.1 1003.8M450.3 1012.2L481.2 993M450.3 1012.2L448.3 980.7M450.3 1012.2L488.2 954.7M689.6 1084.2L730.8 1076.5M689.6 1084.2L687.9 1038.3M532.7 1020.1L575 1004.9M532.7 1020.1L524.1 983.5M765.6 1118.9L785 1112.9M765.6 1118.9L760.6 1078.1M765.6 1118.9L781.5 1074.9M426 1003.3L448.3 980.7M426 1003.3L435.4 980.1M426 1003.3L459.4 952.8M631.4 1039L687.9 1038.3M631.4 1039L624.1 1003.8M631.4 1039L668.4 998.7M481.2 993L524.1 983.5M481.2 993L488.2 954.7M481.2 993L518 949.7M730.8 1076.5L687.9 1038.3M730.8 1076.5L760.6 1078.1M730.8 1076.5L724 1036.3M730.8 1076.5L751.2 1032.9M575 1004.9L524.1 983.5M575 1004.9L624.1 1003.8M575 1004.9L567.7 966.9M575 1004.9L615.7 967.2M785 1112.9L794.1 1100.3M785 1112.9L781.5 1074.9M785 1112.9L791.9 1057.6M448.3 980.7L488.2 954.7M448.3 980.7L459.4 952.8M687.9 1038.3L724 1036.3M687.9 1038.3L668.4 998.7M687.9 1038.3L707 998.9M524.1 983.5L567.7 966.9M524.1 983.5L518 949.7M760.6 1078.1L781.5 1074.9M760.6 1078.1L751.2 1032.9M435.4 980.1L459.4 952.8M624.1 1003.8L668.4 998.7M624.1 1003.8L615.7 967.2M794.1 1100.3L791.9 1057.6M488.2 954.7L459.4 952.8M488.2 954.7L518 949.7M488.2 954.7L495.7 930.2M488.2 954.7L524.5 921.4M724 1036.3L751.2 1032.9M724 1036.3L707 998.9M724 1036.3L732.6 987M567.7 966.9L518 949.7M567.7 966.9L615.7 967.2M567.7 966.9L571.2 936.2M781.5 1074.9L751.2 1032.9M781.5 1074.9L791.9 1057.6M781.5 1074.9L771.2 1021.9M459.4 952.8L495.7 930.2M459.4 952.8L477.7 931.6M668.4 998.7L615.7 967.2M668.4 998.7L707 998.9M668.4 998.7L659.8 959.9M518 949.7L571.2 936.2M518 949.7L524.5 921.4M751.2 1032.9L771.2 1021.9M751.2 1032.9L732.6 987M615.7 967.2L571.2 936.2M615.7 967.2L659.8 959.9M615.7 967.2L613 929.6M791.9 1057.6L771.2 1021.9M791.9 1057.6L791.7 1048.1M791.9 1057.6L781.7 1016.3M495.7 930.2L477.7 931.6M495.7 930.2L524.5 921.4M495.7 930.2L513.1 911.9M707 998.9L659.8 959.9M707 998.9L732.6 987M707 998.9L691.2 952.1M571.2 936.2L524.5 921.4M571.2 936.2L613 929.6M571.2 936.2L575.1 909.2M771.2 1021.9L732.6 987M771.2 1021.9L781.7 1016.3M771.2 1021.9L751.6 976.5M477.7 931.6L513.1 911.9M659.8 959.9L613 929.6M659.8 959.9L691.2 952.1M659.8 959.9L648.4 925.9M791.7 1048.1L781.7 1016.3M524.5 921.4L513.1 911.9M524.5 921.4L575.1 909.2M524.5 921.4L553.7 897.8M732.6 987L691.2 952.1M732.6 987L751.6 976.5M732.6 987L720.6 950M613 929.6L575.1 909.2M613 929.6L648.4 925.9M613 929.6L608.7 903.3M781.7 1016.3L751.6 976.5M781.7 1016.3L778.7 1003.3M781.7 1016.3L758.4 970.6M513.1 911.9L553.7 897.8M513.1 911.9L552 894M691.2 952.1L648.4 925.9M691.2 952.1L720.6 950M691.2 952.1L679.9 921.8M575.1 909.2L553.7 897.8M575.1 909.2L608.7 903.3M575.1 909.2L598.5 892.1M751.6 976.5L720.6 950M751.6 976.5L758.4 970.6M751.6 976.5L725.8 938.4M648.4 925.9L608.7 903.3M648.4 925.9L679.9 921.8M648.4 925.9L651.6 901.5M778.7 1003.3L758.4 970.6M553.7 897.8L552 894M553.7 897.8L598.5 892.1M553.7 897.8L599.5 887.6M720.6 950L679.9 921.8M720.6 950L725.8 938.4M608.7 903.3L598.5 892.1M608.7 903.3L651.6 901.5M758.4 970.6L725.8 938.4M758.4 970.6L739.9 946.4M552 894L599.5 887.6M679.9 921.8L725.8 938.4M679.9 921.8L651.6 901.5M679.9 921.8L695.5 914.4M598.5 892.1L651.6 901.5M598.5 892.1L599.5 887.6M598.5 892.1L643.9 892.6M725.8 938.4L739.9 946.4M725.8 938.4L695.5 914.4M725.8 938.4L702.1 916.4M651.6 901.5L695.5 914.4M651.6 901.5L643.9 892.6M739.9 946.4L702.1 916.4M599.5 887.6L643.9 892.6M695.5 914.4L643.9 892.6M695.5 914.4L702.1 916.4M695.5 914.4L670.5 901.6M643.9 892.6L670.5 901.6M702.1 916.4L670.5 901.6" fill="none" stroke="#96d7ff" stroke-opacity="0.9" stroke-width="0.9"/>
<g fill="url(#dotglow)" fill-opacity="1.0"><circle cx="413.5" cy="1125.5" r="7.3"/><circle cx="443.8" cy="1109.6" r="6.5"/><circle cx="520.2" cy="1112.7" r="8.6"/><circle cx="414.9" cy="1089.6" r="7.4"/><circle cx="432.8" cy="1066.1" r="9.2"/><circle cx="506.1" cy="1070.4" r="7.9"/><circle cx="410.1" cy="1060.6" r="7.6"/><circle cx="455.9" cy="1040.4" r="9.1"/><circle cx="649" cy="1085.9" r="6.8"/><circle cx="765.6" cy="1118.9" r="7"/><circle cx="631.4" cy="1039" r="9"/><circle cx="488.2" cy="954.7" r="8.7"/><circle cx="781.5" cy="1074.9" r="4.6"/><circle cx="459.4" cy="952.8" r="4.5"/><circle cx="751.2" cy="1032.9" r="7.5"/><circle cx="707" cy="998.9" r="5.6"/><circle cx="771.2" cy="1021.9" r="7.5"/><circle cx="791.7" cy="1048.1" r="9.8"/><circle cx="613" cy="929.6" r="5"/><circle cx="575.1" cy="909.2" r="7.9"/><circle cx="778.7" cy="1003.3" r="7.2"/><circle cx="758.4" cy="970.6" r="8.2"/><circle cx="651.6" cy="901.5" r="9.5"/><circle cx="739.9" cy="946.4" r="8.4"/><circle cx="599.5" cy="887.6" r="8.3"/><circle cx="695.5" cy="914.4" r="4.1"/><circle cx="643.9" cy="892.6" r="7.3"/><circle cx="702.1" cy="916.4" r="9.8"/><circle cx="620.8" cy="1117.6" r="7.6"/><circle cx="551.5" cy="1151.1" r="8"/><circle cx="548.2" cy="1169.6" r="7.5"/><circle cx="664" cy="926.1" r="5.1"/><circle cx="472.8" cy="969" r="4.6"/><circle cx="519.4" cy="1158.3" r="7.8"/><circle cx="694.8" cy="1107.3" r="5.1"/><circle cx="477.5" cy="987.9" r="5.4"/><circle cx="657.4" cy="929.4" r="5.2"/><circle cx="537.6" cy="925.1" r="7.3"/><circle cx="650.1" cy="1093.9" r="4.9"/><circle cx="637.3" cy="1202.9" r="8"/><circle cx="720.9" cy="960.6" r="7.4"/><circle cx="605.8" cy="1037.3" r="6"/><circle cx="674.4" cy="1043.6" r="7.7"/><circle cx="640.5" cy="942.5" r="7.7"/><circle cx="525.5" cy="966.6" r="6.9"/><circle cx="545.1" cy="996.5" r="6.4"/></g>
<g fill="#e4f5ff"><circle cx="480.4" cy="1128.8" r="1.9"/><circle cx="413.5" cy="1125.5" r="1.6"/><circle cx="443.8" cy="1109.6" r="1.4"/><circle cx="520.2" cy="1112.7" r="1.9"/><circle cx="414.9" cy="1089.6" r="1.7"/><circle cx="609.5" cy="1136.7" r="1.3"/><circle cx="432.8" cy="1066.1" r="2"/><circle cx="506.1" cy="1070.4" r="1.8"/><circle cx="410.1" cy="1060.6" r="1.7"/><circle cx="601.1" cy="1088.7" r="1.7"/><circle cx="455.9" cy="1040.4" r="2"/><circle cx="649" cy="1085.9" r="1.5"/><circle cx="491" cy="1027.6" r="2"/><circle cx="414" cy="1028.8" r="2.2"/><circle cx="593.8" cy="1045.3" r="1.2"/><circle cx="689.6" cy="1084.2" r="1.4"/><circle cx="765.6" cy="1118.9" r="1.6"/><circle cx="631.4" cy="1039" r="2"/><circle cx="575" cy="1004.9" r="1.5"/><circle cx="785" cy="1112.9" r="2"/><circle cx="448.3" cy="980.7" r="1.3"/><circle cx="687.9" cy="1038.3" r="1.8"/><circle cx="760.6" cy="1078.1" r="1.9"/><circle cx="624.1" cy="1003.8" r="1.5"/><circle cx="488.2" cy="954.7" r="1.9"/><circle cx="724" cy="1036.3" r="1.7"/><circle cx="781.5" cy="1074.9" r="1"/><circle cx="459.4" cy="952.8" r="1"/><circle cx="518" cy="949.7" r="1.9"/><circle cx="751.2" cy="1032.9" r="1.7"/><circle cx="615.7" cy="967.2" r="1.3"/><circle cx="707" cy="998.9" r="1.2"/><circle cx="771.2" cy="1021.9" r="1.7"/><circle cx="791.7" cy="1048.1" r="2.2"/><circle cx="613" cy="929.6" r="1.1"/><circle cx="575.1" cy="909.2" r="1.8"/><circle cx="778.7" cy="1003.3" r="1.6"/><circle cx="553.7" cy="897.8" r="1.8"/><circle cx="608.7" cy="903.3" r="1.9"/><circle cx="758.4" cy="970.6" r="1.8"/><circle cx="552" cy="894" r="2.2"/><circle cx="598.5" cy="892.1" r="1.4"/><circle cx="725.8" cy="938.4" r="0.9"/><circle cx="651.6" cy="901.5" r="2.1"/><circle cx="739.9" cy="946.4" r="1.9"/><circle cx="599.5" cy="887.6" r="1.8"/><circle cx="695.5" cy="914.4" r="0.9"/><circle cx="643.9" cy="892.6" r="1.6"/><circle cx="702.1" cy="916.4" r="2.2"/></g>
</g>
<path d="M725 928 A198 198 0 0 1 799 1089 L762 1089 L744 1010 Z" fill="#02060e"/>
<circle cx="372" cy="835" r="150" fill="url(#halo)" opacity="0.3"/>
<circle cx="210.1" cy="869.4" r="34" fill="url(#halo)" opacity="1"/><path d="M266.8 845.1L240 858.5L223 862.3L210.8 860.6L204.7 864.5L207.1 876.1L214.3 877.2L224.8 870.7L241.9 867.3L271.8 868.6Z" fill="#2277c8" fill-opacity="0.6" stroke="#c8ecff" stroke-width="0.8" stroke-opacity="0.9"/><path d="M268.5 853.3L214.3 877.2M270 860.4L210.8 860.6M240 858.5L224.8 870.9M241.9 867.3L223 862.1M266.8 845.1L241.9 867.3M271.8 868.6L240 858.5" stroke="#d5f1ff" stroke-width="0.5" stroke-opacity="0.65" fill="none"/><ellipse cx="208.8" cy="869.7" rx="6.8" ry="4.7" transform="rotate(258 208.8 869.7)" fill="#8fd0f8" fill-opacity="0.45" stroke="#e8f8ff" stroke-width="1"/>
<circle cx="263.9" cy="951" r="34" fill="url(#halo)" opacity="1"/><path d="M291.6 903.6L279.7 927.4L269.4 938.7L259.4 943.3L256.6 950L265.3 958.1L271.8 954.9L275.7 944.5L286.3 933.5L309.2 920Z" fill="#2277c8" fill-opacity="0.6" stroke="#c8ecff" stroke-width="0.8" stroke-opacity="0.9"/><path d="M297.8 909.3L271.8 954.9M303 914.2L259.4 943.3M279.7 927.4L275.9 944.7M286.3 933.5L269.3 938.6M291.6 903.6L286.3 933.5M309.2 920L279.7 927.4" stroke="#d5f1ff" stroke-width="0.5" stroke-opacity="0.65" fill="none"/><ellipse cx="263" cy="951.9" rx="6.8" ry="4.7" transform="rotate(223 263 951.9)" fill="#8fd0f8" fill-opacity="0.45" stroke="#e8f8ff" stroke-width="1"/>
<circle cx="328.1" cy="998.8" r="34" fill="url(#halo)" opacity="1"/><path d="M333.2 933.3L332.5 965.2L327.9 983.2L320.6 994.1L321.3 1001.3L332.8 1004.4L337 998.5L336.1 985.4L341.1 967.5L356.4 939.5Z" fill="#2277c8" fill-opacity="0.6" stroke="#c8ecff" stroke-width="0.8" stroke-opacity="0.9"/><path d="M341.3 935.5L337 998.5M348.3 937.4L320.6 994.1M332.5 965.2L336.3 985.5M341.1 967.5L327.6 983.2M333.2 933.3L341.1 967.5M356.4 939.5L332.5 965.2" stroke="#d5f1ff" stroke-width="0.5" stroke-opacity="0.65" fill="none"/><ellipse cx="327.8" cy="1000" rx="6.8" ry="4.7" transform="rotate(195 327.8 1000)" fill="#8fd0f8" fill-opacity="0.45" stroke="#e8f8ff" stroke-width="1"/>
<circle cx="404.5" cy="996.3" r="34" fill="url(#halo)" opacity="1"/><path d="M381 940.3L394 966.8L397.6 983.5L395.7 995.5L399.5 1001.6L411.2 999.3L412.4 992.1L406 981.8L402.8 965L404.5 935.6Z" fill="#2277c8" fill-opacity="0.6" stroke="#c8ecff" stroke-width="0.8" stroke-opacity="0.9"/><path d="M389.2 938.6L412.4 992.1M396.3 937.2L395.7 995.5M394 966.8L406.2 981.7M402.8 965L397.4 983.5M381 940.3L402.8 965M404.5 935.6L394 966.8" stroke="#d5f1ff" stroke-width="0.5" stroke-opacity="0.65" fill="none"/><ellipse cx="404.8" cy="997.6" rx="6.8" ry="4.7" transform="rotate(168.6 404.8 997.6)" fill="#8fd0f8" fill-opacity="0.45" stroke="#e8f8ff" stroke-width="1"/>
<circle cx="498.5" cy="963.8" r="34" fill="url(#halo)" opacity="0.9"/><path d="M437 918.3L468 939.1L483.5 954.5L490.7 967.9L497.3 971L505.8 962.6L502.8 956L489.6 948.5L474.4 932.8L454.2 901.5Z" fill="#2277c8" fill-opacity="0.6" stroke="#c8ecff" stroke-width="0.8" stroke-opacity="0.9"/><path d="M443 912.4L502.8 956M448.2 907.4L490.7 967.9M468 939.1L489.7 948.4M474.4 932.8L483.3 954.7M437 918.3L474.4 932.8M454.2 901.5L468 939.1" stroke="#d5f1ff" stroke-width="0.5" stroke-opacity="0.65" fill="none"/><ellipse cx="499.4" cy="964.7" rx="6.8" ry="4.7" transform="rotate(135.5 499.4 964.7)" fill="#8fd0f8" fill-opacity="0.45" stroke="#e8f8ff" stroke-width="1"/>
<circle cx="523.4" cy="860.3" r="34" fill="url(#halo)" opacity="0.9"/><path d="M473.6 864.2L497.5 860.6L511.1 862.6L519.5 868.3L526.7 866.9L528.6 855.2L522.3 851.5L512.6 854.2L499 851.7L477.5 840.5Z" fill="#2277c8" fill-opacity="0.6" stroke="#c8ecff" stroke-width="0.8" stroke-opacity="0.9"/><path d="M475 855.9L522.3 851.5M476.2 848.8L519.5 868.3M497.5 860.6L512.6 854M499 851.7L511.1 862.8M473.6 864.2L499 851.7M477.5 840.5L497.5 860.6" stroke="#d5f1ff" stroke-width="0.5" stroke-opacity="0.65" fill="none"/><ellipse cx="524.7" cy="860.6" rx="6.8" ry="4.7" transform="rotate(99.5 524.7 860.6)" fill="#8fd0f8" fill-opacity="0.45" stroke="#e8f8ff" stroke-width="1"/>
<circle cx="528" cy="813.1" r="34" fill="url(#halo)" opacity="0.5"/><path d="M477.6 832.3L501.4 821.4L516.2 819.1L526.7 821.8L533.1 818.4L531.4 806.6L524.3 805L515 810.6L500.1 812.5L474.3 808.5Z" fill="#2277c8" fill-opacity="0.6" stroke="#c8ecff" stroke-width="0.8" stroke-opacity="0.9"/><path d="M476.5 824L524.3 805M475.5 816.8L526.7 821.8M501.4 821.4L515 810.4M500.1 812.5L516.2 819.3M477.6 832.3L500.1 812.5M474.3 808.5L501.4 821.4" stroke="#d5f1ff" stroke-width="0.5" stroke-opacity="0.65" fill="none"/><ellipse cx="529.3" cy="812.9" rx="6.8" ry="4.7" transform="rotate(82 529.3 812.9)" fill="#8fd0f8" fill-opacity="0.45" stroke="#e8f8ff" stroke-width="1"/>
<circle cx="372" cy="835" r="110" fill="url(#vir)"/>
<g fill="#328ce4">
<path d="M447.6 892.4L439.9 876.6L428.7 909.5Z" fill-opacity="0.07"/>
<path d="M444.1 912.7L447.6 892.4L428.7 909.5Z" fill-opacity="0.04"/>
<path d="M382.8 937.1L351.4 939.5L357.7 932.7Z" fill-opacity="0.25"/>
<path d="M263.5 817.2L266.5 833.4L262.7 844.1Z" fill-opacity="0.09"/>
<path d="M263.5 817.2L266.5 833.4L268.9 805Z" fill-opacity="0.07"/>
<path d="M371 944.8L382.8 937.1L351.4 939.5Z" fill-opacity="0.24"/>
<path d="M331 891.4L296.6 874.1L311.8 900.1Z" fill-opacity="0.34"/>
<path d="M331 891.4L342.5 910.7L311.8 900.1Z" fill-opacity="0.34"/>
<path d="M280.8 795.3L280.7 776.3L268.9 805Z" fill-opacity="0.03"/>
<path d="M292.2 811.7L297.3 787L311.4 801.6Z" fill-opacity="0.06"/>
<path d="M292.2 811.7L280.8 795.3L297.3 787Z" fill-opacity="0.05"/>
<path d="M301.5 918.3L327.5 931L316.9 929.7Z" fill-opacity="0.35"/>
<path d="M301.5 918.3L327.5 931L304.8 911.6Z" fill-opacity="0.38"/>
<path d="M301.5 918.3L281.7 895.6L288.6 906.2Z" fill-opacity="0.37"/>
<path d="M301.5 918.3L281.7 895.6L304.8 911.6Z" fill-opacity="0.30"/>
<path d="M340.7 940.5L327.5 931L316.9 929.7Z" fill-opacity="0.30"/>
<path d="M340.7 940.5L327.5 931L351.4 939.5Z" fill-opacity="0.39"/>
<path d="M340.7 940.5L371 944.8L351.4 939.5Z" fill-opacity="0.30"/>
<path d="M331.9 923.1L351.4 939.5L357.7 932.7Z" fill-opacity="0.40"/>
<path d="M331.9 923.1L327.5 931L351.4 939.5Z" fill-opacity="0.45"/>
<path d="M331.9 923.1L342.5 910.7L357.7 932.7Z" fill-opacity="0.31"/>
<path d="M331.9 923.1L327.5 931L304.8 911.6Z" fill-opacity="0.36"/>
<path d="M331.9 923.1L304.8 911.6L311.8 900.1Z" fill-opacity="0.45"/>
<path d="M331.9 923.1L342.5 910.7L311.8 900.1Z" fill-opacity="0.45"/>
<path d="M285.4 886.8L281.7 895.6L304.8 911.6Z" fill-opacity="0.45"/>
<path d="M285.4 886.8L304.8 911.6L311.8 900.1Z" fill-opacity="0.45"/>
<path d="M285.4 886.8L296.6 874.1L311.8 900.1Z" fill-opacity="0.44"/>
<path d="M285.4 886.8L281.7 895.6L268.6 870.2Z" fill-opacity="0.37"/>
<path d="M419.1 889.7L405.4 869.3L382.6 884.8Z" fill-opacity="0.18"/>
<path d="M419.1 889.7L439.9 876.6L428.7 909.5Z" fill-opacity="0.05"/>
<path d="M400.7 940.3L371 944.8L382.8 937.1Z" fill-opacity="0.24"/>
<path d="M400.7 940.3L371 944.8L389.7 942.6Z" fill-opacity="0.15"/>
<path d="M399.6 909L419.1 889.7L382.6 884.8Z" fill-opacity="0.16"/>
<path d="M399.6 909L402.5 926.7L428.7 909.5Z" fill-opacity="0.13"/>
<path d="M399.6 909L419.1 889.7L428.7 909.5Z" fill-opacity="0.09"/>
<path d="M446.7 915.7L444.1 912.7L424.9 931.4Z" fill-opacity="0.04"/>
<path d="M301 840.5L296.6 874.1L285.1 849.8Z" fill-opacity="0.26"/>
<path d="M301 840.5L292.2 811.7L285.1 849.8Z" fill-opacity="0.22"/>
<path d="M301 840.5L325.3 826.7L311.4 801.6Z" fill-opacity="0.12"/>
<path d="M301 840.5L292.2 811.7L311.4 801.6Z" fill-opacity="0.15"/>
<path d="M371.7 863.5L405.4 869.3L382.6 884.8Z" fill-opacity="0.12"/>
<path d="M371.7 863.5L395.2 849.2L405.4 869.3Z" fill-opacity="0.15"/>
<path d="M431 851.9L395.2 849.2L405.4 869.3Z" fill-opacity="0.05"/>
<path d="M431 851.9L419.1 889.7L439.9 876.6Z" fill-opacity="0.05"/>
<path d="M431 851.9L419.1 889.7L405.4 869.3Z" fill-opacity="0.07"/>
<path d="M271.5 878.7L281.7 895.6L268.6 870.2Z" fill-opacity="0.21"/>
<path d="M279.7 819.4L266.5 833.4L268.9 805Z" fill-opacity="0.09"/>
<path d="M279.7 819.4L280.8 795.3L268.9 805Z" fill-opacity="0.12"/>
<path d="M279.7 819.4L292.2 811.7L280.8 795.3Z" fill-opacity="0.11"/>
<path d="M279.7 819.4L266.5 833.4L285.1 849.8Z" fill-opacity="0.19"/>
<path d="M279.7 819.4L292.2 811.7L285.1 849.8Z" fill-opacity="0.24"/>
<path d="M344.8 814.1L367.1 798.7L339.3 786.7Z" fill-opacity="0.03"/>
<path d="M344.8 814.1L339.3 786.7L311.4 801.6Z" fill-opacity="0.09"/>
<path d="M344.8 814.1L325.3 826.7L311.4 801.6Z" fill-opacity="0.08"/>
<path d="M344.8 814.1L367.1 798.7L379.3 821.4Z" fill-opacity="0.07"/>
<path d="M273.6 861.5L285.4 886.8L268.6 870.2Z" fill-opacity="0.36"/>
<path d="M273.6 861.5L266.5 833.4L262.7 844.1Z" fill-opacity="0.18"/>
<path d="M273.6 861.5L268.6 870.2L262.7 844.1Z" fill-opacity="0.27"/>
<path d="M273.6 861.5L266.5 833.4L285.1 849.8Z" fill-opacity="0.19"/>
<path d="M273.6 861.5L296.6 874.1L285.1 849.8Z" fill-opacity="0.25"/>
<path d="M273.6 861.5L285.4 886.8L296.6 874.1Z" fill-opacity="0.25"/>
<path d="M420.4 929.2L402.5 926.7L382.8 937.1Z" fill-opacity="0.18"/>
<path d="M420.4 929.2L400.7 940.3L382.8 937.1Z" fill-opacity="0.19"/>
<path d="M420.4 929.2L444.1 912.7L428.7 909.5Z" fill-opacity="0.07"/>
<path d="M420.4 929.2L402.5 926.7L428.7 909.5Z" fill-opacity="0.15"/>
<path d="M420.4 929.2L444.1 912.7L424.9 931.4Z" fill-opacity="0.04"/>
<path d="M420.4 929.2L400.7 940.3L424.9 931.4Z" fill-opacity="0.12"/>
<path d="M364.4 900.4L399.6 909L382.6 884.8Z" fill-opacity="0.18"/>
<path d="M364.4 900.4L331 891.4L342.5 910.7Z" fill-opacity="0.32"/>
<path d="M327 853L301 840.5L325.3 826.7Z" fill-opacity="0.18"/>
<path d="M411.5 828.5L431 851.9L395.2 849.2Z" fill-opacity="0.04"/>
<path d="M411.5 828.5L395.2 849.2L379.3 821.4Z" fill-opacity="0.06"/>
<path d="M378.8 922L364.4 900.4L399.6 909Z" fill-opacity="0.30"/>
<path d="M378.8 922L399.6 909L402.5 926.7Z" fill-opacity="0.22"/>
<path d="M378.8 922L342.5 910.7L357.7 932.7Z" fill-opacity="0.44"/>
<path d="M378.8 922L364.4 900.4L342.5 910.7Z" fill-opacity="0.36"/>
<path d="M378.8 922L382.8 937.1L357.7 932.7Z" fill-opacity="0.36"/>
<path d="M378.8 922L402.5 926.7L382.8 937.1Z" fill-opacity="0.33"/>
<path d="M347.4 874.7L364.4 900.4L331 891.4Z" fill-opacity="0.37"/>
<path d="M347.4 874.7L371.7 863.5L382.6 884.8Z" fill-opacity="0.25"/>
<path d="M347.4 874.7L364.4 900.4L382.6 884.8Z" fill-opacity="0.24"/>
<path d="M312.1 863L301 840.5L296.6 874.1Z" fill-opacity="0.38"/>
<path d="M312.1 863L327 853L301 840.5Z" fill-opacity="0.29"/>
<path d="M312.1 863L331 891.4L296.6 874.1Z" fill-opacity="0.45"/>
<path d="M312.1 863L347.4 874.7L331 891.4Z" fill-opacity="0.28"/>
<path d="M312.1 863L347.4 874.7L327 853Z" fill-opacity="0.32"/>
<path d="M357.4 837.6L344.8 814.1L379.3 821.4Z" fill-opacity="0.09"/>
<path d="M357.4 837.6L347.4 874.7L371.7 863.5Z" fill-opacity="0.18"/>
<path d="M357.4 837.6L347.4 874.7L327 853Z" fill-opacity="0.26"/>
<path d="M357.4 837.6L344.8 814.1L325.3 826.7Z" fill-opacity="0.15"/>
<path d="M357.4 837.6L327 853L325.3 826.7Z" fill-opacity="0.15"/>
<path d="M357.4 837.6L395.2 849.2L379.3 821.4Z" fill-opacity="0.10"/>
<path d="M357.4 837.6L371.7 863.5L395.2 849.2Z" fill-opacity="0.09"/>
</g>
<path d="M389.7 942.6L371 944.8M389.7 942.6L400.7 940.3M371 944.8L340.7 940.5M371 944.8L400.7 940.3M371 944.8L351.4 939.5M371 944.8L382.8 937.1M340.7 940.5L351.4 939.5M340.7 940.5L316.9 929.7M340.7 940.5L327.5 931M400.7 940.3L424.9 931.4M400.7 940.3L382.8 937.1M400.7 940.3L420.4 929.2M351.4 939.5L382.8 937.1M351.4 939.5L327.5 931M351.4 939.5L357.7 932.7M351.4 939.5L331.9 923.1M424.9 931.4L420.4 929.2M424.9 931.4L446.7 915.7M424.9 931.4L444.1 912.7M316.9 929.7L327.5 931M316.9 929.7L301.5 918.3M382.8 937.1L420.4 929.2M382.8 937.1L357.7 932.7M382.8 937.1L402.5 926.7M382.8 937.1L378.8 922M327.5 931L301.5 918.3M327.5 931L331.9 923.1M327.5 931L304.8 911.6M420.4 929.2L402.5 926.7M420.4 929.2L444.1 912.7M420.4 929.2L428.7 909.5M357.7 932.7L331.9 923.1M357.7 932.7L378.8 922M357.7 932.7L342.5 910.7M446.7 915.7L444.1 912.7M446.7 915.7L462.9 895.5M446.7 915.7L461.6 894.8M301.5 918.3L288.6 906.2M301.5 918.3L304.8 911.6M301.5 918.3L281.7 895.6M402.5 926.7L378.8 922M402.5 926.7L428.7 909.5M402.5 926.7L399.6 909M331.9 923.1L304.8 911.6M331.9 923.1L342.5 910.7M331.9 923.1L311.8 900.1M444.1 912.7L428.7 909.5M444.1 912.7L461.6 894.8M444.1 912.7L447.6 892.4M288.6 906.2L281.7 895.6M378.8 922L342.5 910.7M378.8 922L399.6 909M378.8 922L364.4 900.4M462.9 895.5L461.6 894.8M462.9 895.5L474.4 874.5M304.8 911.6L281.7 895.6M304.8 911.6L311.8 900.1M304.8 911.6L285.4 886.8M428.7 909.5L399.6 909M428.7 909.5L447.6 892.4M428.7 909.5L419.1 889.7M428.7 909.5L439.9 876.6M342.5 910.7L311.8 900.1M342.5 910.7L364.4 900.4M342.5 910.7L331 891.4M461.6 894.8L447.6 892.4M461.6 894.8L474.4 874.5M461.6 894.8L463.9 875.2M281.7 895.6L271.5 878.7M281.7 895.6L285.4 886.8M281.7 895.6L268.6 870.2M399.6 909L364.4 900.4M399.6 909L419.1 889.7M399.6 909L382.6 884.8M311.8 900.1L285.4 886.8M311.8 900.1L331 891.4M311.8 900.1L296.6 874.1M447.6 892.4L463.9 875.2M447.6 892.4L439.9 876.6M271.5 878.7L268.6 870.2M364.4 900.4L331 891.4M364.4 900.4L382.6 884.8M364.4 900.4L347.4 874.7M474.4 874.5L463.9 875.2M474.4 874.5L479.3 854.6M474.4 874.5L475.1 855.9M474.4 874.5L481.2 836.8M285.4 886.8L268.6 870.2M285.4 886.8L296.6 874.1M285.4 886.8L273.6 861.5M419.1 889.7L382.6 884.8M419.1 889.7L439.9 876.6M419.1 889.7L405.4 869.3M419.1 889.7L431 851.9M331 891.4L296.6 874.1M331 891.4L347.4 874.7M331 891.4L312.1 863M463.9 875.2L439.9 876.6M463.9 875.2L475.1 855.9M463.9 875.2L459.3 851.4M268.6 870.2L273.6 861.5M268.6 870.2L262.7 844.1M382.6 884.8L347.4 874.7M382.6 884.8L405.4 869.3M382.6 884.8L371.7 863.5M479.3 854.6L481.2 836.8M296.6 874.1L273.6 861.5M296.6 874.1L312.1 863M296.6 874.1L285.1 849.8M296.6 874.1L301 840.5M439.9 876.6L459.3 851.4M439.9 876.6L431 851.9M347.4 874.7L312.1 863M347.4 874.7L371.7 863.5M347.4 874.7L327 853M347.4 874.7L357.4 837.6M475.1 855.9L459.3 851.4M475.1 855.9L481.2 836.8M475.1 855.9L470.8 835.7M273.6 861.5L262.7 844.1M273.6 861.5L285.1 849.8M273.6 861.5L266.5 833.4M405.4 869.3L371.7 863.5M405.4 869.3L431 851.9M405.4 869.3L395.2 849.2M312.1 863L327 853M312.1 863L301 840.5M459.3 851.4L431 851.9M459.3 851.4L470.8 835.7M459.3 851.4L447 834M459.3 851.4L459.6 815.7M262.7 844.1L266.5 833.4M262.7 844.1L263.5 817.2M371.7 863.5L395.2 849.2M371.7 863.5L357.4 837.6M481.2 836.8L470.8 835.7M481.2 836.8L478.7 809M481.2 836.8L476.6 816.9M285.1 849.8L266.5 833.4M285.1 849.8L301 840.5M285.1 849.8L279.7 819.4M285.1 849.8L292.2 811.7M431 851.9L395.2 849.2M431 851.9L447 834M431 851.9L411.5 828.5M431 851.9L430.4 813.2M327 853L301 840.5M327 853L357.4 837.6M327 853L325.3 826.7M470.8 835.7L476.6 816.9M470.8 835.7L459.6 815.7M266.5 833.4L263.5 817.2M266.5 833.4L279.7 819.4M266.5 833.4L268.9 805M395.2 849.2L357.4 837.6M395.2 849.2L411.5 828.5M395.2 849.2L379.3 821.4M478.7 809L476.6 816.9M478.7 809L474.3 795.7M301 840.5L325.3 826.7M301 840.5L292.2 811.7M301 840.5L311.4 801.6M447 834L459.6 815.7M447 834L430.4 813.2M263.5 817.2L268.9 805M263.5 817.2L272.8 787.9M357.4 837.6L325.3 826.7M357.4 837.6L379.3 821.4M357.4 837.6L344.8 814.1M476.6 816.9L459.6 815.7M476.6 816.9L474.3 795.7M476.6 816.9L462.7 795.4M279.7 819.4L268.9 805M279.7 819.4L292.2 811.7M279.7 819.4L280.8 795.3M411.5 828.5L379.3 821.4M411.5 828.5L430.4 813.2M411.5 828.5L400.9 804.8M325.3 826.7L344.8 814.1M325.3 826.7L311.4 801.6M459.6 815.7L430.4 813.2M459.6 815.7L462.7 795.4M459.6 815.7L442.5 794.7M268.9 805L272.8 787.9M268.9 805L280.8 795.3M268.9 805L280.7 776.3M379.3 821.4L344.8 814.1M379.3 821.4L400.9 804.8M379.3 821.4L367.1 798.7M474.3 795.7L462.7 795.4M292.2 811.7L280.8 795.3M292.2 811.7L311.4 801.6M292.2 811.7L297.3 787M430.4 813.2L400.9 804.8M430.4 813.2L442.5 794.7M430.4 813.2L415.9 789.4M272.8 787.9L280.7 776.3M344.8 814.1L311.4 801.6M344.8 814.1L367.1 798.7M344.8 814.1L339.3 786.7M462.7 795.4L442.5 794.7M280.8 795.3L280.7 776.3M280.8 795.3L297.3 787M400.9 804.8L367.1 798.7M400.9 804.8L415.9 789.4M400.9 804.8L387.5 778.3M311.4 801.6L297.3 787M311.4 801.6L339.3 786.7M311.4 801.6L320.1 772.3M442.5 794.7L415.9 789.4M367.1 798.7L339.3 786.7M367.1 798.7L387.5 778.3M297.3 787L320.1 772.3M415.9 789.4L387.5 778.3M339.3 786.7L320.1 772.3" fill="none" stroke="#96d7ff" stroke-opacity="0.55" stroke-width="0.45"/>
<g fill="url(#dotglow)" fill-opacity="0.8"><circle cx="327.5" cy="931" r="2.2"/><circle cx="402.5" cy="926.7" r="3"/><circle cx="444.1" cy="912.7" r="2.1"/><circle cx="462.9" cy="895.5" r="4"/><circle cx="304.8" cy="911.6" r="3.2"/><circle cx="311.8" cy="900.1" r="4.4"/><circle cx="382.6" cy="884.8" r="3.7"/><circle cx="347.4" cy="874.7" r="2.7"/><circle cx="312.1" cy="863" r="4.6"/><circle cx="431" cy="851.9" r="2.1"/><circle cx="357.4" cy="837.6" r="3.5"/><circle cx="332.3" cy="918.1" r="2.5"/><circle cx="464.6" cy="802.5" r="2.2"/><circle cx="327.6" cy="922.7" r="3.8"/><circle cx="354.7" cy="803.3" r="2.1"/><circle cx="372.5" cy="930.6" r="3.5"/><circle cx="294.7" cy="872.3" r="3.7"/><circle cx="343.6" cy="922.5" r="2.6"/><circle cx="362.1" cy="853.3" r="2.4"/><circle cx="357.5" cy="830.2" r="3.1"/><circle cx="413" cy="909.6" r="2.3"/><circle cx="385.6" cy="884.2" r="3.1"/><circle cx="402.7" cy="755.3" r="3.4"/><circle cx="341.8" cy="769.1" r="2.7"/><circle cx="411" cy="917.7" r="2.8"/><circle cx="356.9" cy="814.2" r="2.7"/></g>
<g fill="#e4f5ff"><circle cx="340.7" cy="940.5" r="0.6"/><circle cx="400.7" cy="940.3" r="0.8"/><circle cx="424.9" cy="931.4" r="1"/><circle cx="382.8" cy="937.1" r="0.8"/><circle cx="327.5" cy="931" r="0.5"/><circle cx="420.4" cy="929.2" r="0.6"/><circle cx="402.5" cy="926.7" r="0.7"/><circle cx="444.1" cy="912.7" r="0.5"/><circle cx="462.9" cy="895.5" r="0.9"/><circle cx="304.8" cy="911.6" r="0.7"/><circle cx="281.7" cy="895.6" r="0.9"/><circle cx="311.8" cy="900.1" r="1"/><circle cx="419.1" cy="889.7" r="0.8"/><circle cx="382.6" cy="884.8" r="0.8"/><circle cx="439.9" cy="876.6" r="0.8"/><circle cx="347.4" cy="874.7" r="0.6"/><circle cx="273.6" cy="861.5" r="0.6"/><circle cx="312.1" cy="863" r="1"/><circle cx="262.7" cy="844.1" r="0.8"/><circle cx="371.7" cy="863.5" r="0.7"/><circle cx="431" cy="851.9" r="0.5"/><circle cx="327" cy="853" r="0.8"/><circle cx="470.8" cy="835.7" r="0.5"/><circle cx="266.5" cy="833.4" r="0.7"/><circle cx="478.7" cy="809" r="0.6"/><circle cx="301" cy="840.5" r="0.8"/><circle cx="357.4" cy="837.6" r="0.8"/><circle cx="379.3" cy="821.4" r="0.6"/><circle cx="272.8" cy="787.9" r="0.8"/><circle cx="344.8" cy="814.1" r="0.8"/><circle cx="462.7" cy="795.4" r="0.6"/><circle cx="280.8" cy="795.3" r="0.7"/><circle cx="311.4" cy="801.6" r="0.7"/><circle cx="387.5" cy="778.3" r="0.9"/></g>
<circle cx="326.5" cy="866" r="29.209999999999997" fill="url(#halo)" opacity="0.4"/><path d="M314.2 849.1L319.6 851L321.6 844.7L326.1 849.5L330.9 841L332.5 850.6L339.6 845.8L338.1 854.2L343.8 854.3L341.7 859.7L349.1 861.6L343 866.1L349.4 870.8L341.6 872.6L344 878.2L337.9 878L339.8 887.2L332.3 881.5L326.5 866Z" fill="#3f9dea" fill-opacity="0.75"/><circle cx="326.5" cy="866" r="12.7" fill="#04152d" stroke="#7fc4f5" stroke-width="0.8"/>
<circle cx="390.6" cy="882.6" r="29.209999999999997" fill="url(#halo)" opacity="0.4"/><path d="M375.1 861.3L383.7 867.6L385.3 859.6L390.2 866.1L395.2 856.5L396.6 867.2L401.9 865.1L402.2 870.8L410.6 869.1L405.8 876.3L412.9 878.2L407.1 882.7L415.5 887.9L405.7 889.2L408.2 894.9L402 894.6L404.3 904.5L396.4 898.1L390.6 882.6Z" fill="#3f9dea" fill-opacity="0.75"/><circle cx="390.6" cy="882.6" r="12.7" fill="#04152d" stroke="#7fc4f5" stroke-width="0.8"/>
<circle cx="370" cy="814" r="25.299999999999997" fill="url(#halo)" opacity="0.4"/><path d="M357 796.2L364.1 801L365 792.5L369.6 799.7L373.5 793.9L375.2 800.7L380.4 797.9L380 803.8L384.8 804L383.2 808.5L389.3 810.2L384.3 814.1L389.4 818.1L383.1 819.7L384.6 824.2L379.9 824.4L379.5 829.1L375 827.4L370 814Z" fill="#3f9dea" fill-opacity="0.75"/><circle cx="370" cy="814" r="11" fill="#04152d" stroke="#7fc4f5" stroke-width="0.8"/>
<circle cx="462.9" cy="896" r="16" fill="url(#halo)" opacity="0.7"/><path d="M439.3 888L450 891.9L455.5 895.5L457.6 900.2L462.9 901.6L468.2 894.2L465 889.6L459.9 889.3L454.6 885.3L447.3 876.6Z" fill="#2277c8" fill-opacity="0.6" stroke="#c8ecff" stroke-width="0.8" stroke-opacity="0.9"/><path d="M442.1 884L465 889.6M444.5 880.6L457.6 900.2M450 891.9L460 889.1M454.6 885.3L455.4 895.7M439.3 888L454.6 885.3M447.3 876.6L450 891.9" stroke="#d5f1ff" stroke-width="0.5" stroke-opacity="0.65" fill="none"/><ellipse cx="463.7" cy="896.6" rx="5.2" ry="3.6" transform="rotate(125 463.7 896.6)" fill="#8fd0f8" fill-opacity="0.45" stroke="#e8f8ff" stroke-width="1"/>
<circle cx="493.2" cy="878.8" r="14" fill="url(#halo)" opacity="0.6"/><path d="M471.1 875.1L481.2 877.1L486.7 879.5L489.4 883.1L494.1 883.5L497.4 876.5L494.1 873.2L489.5 873.4L484.2 870.7L476.2 864.3Z" fill="#2277c8" fill-opacity="0.6" stroke="#c8ecff" stroke-width="0.8" stroke-opacity="0.9"/><path d="M472.9 871.3L494.1 873.2M474.4 868.1L489.4 883.1M481.2 877.1L489.6 873.3M484.2 870.7L486.6 879.6M471.1 875.1L484.2 870.7M476.2 864.3L481.2 877.1" stroke="#d5f1ff" stroke-width="0.5" stroke-opacity="0.65" fill="none"/><ellipse cx="494" cy="879.2" rx="4.4" ry="3" transform="rotate(115 494 879.2)" fill="#8fd0f8" fill-opacity="0.45" stroke="#e8f8ff" stroke-width="1"/>
<ellipse cx="150" cy="1045" rx="155" ry="82" transform="rotate(-40 150 1045)" fill="url(#sphglow)" opacity="0.45"/>
<path d="M250 972 L256 1006 L212 1089 L150 1089 Z" fill="#010409"/>
<ellipse cx="150" cy="1045" rx="128" ry="56" transform="rotate(-40 150 1045)" fill="#06214a"/>
<g fill="#64bef8">
<path d="M133.1 1072.2L111.8 1072.9L148.4 1049.4Z" fill-opacity="0.03"/>
<path d="M62.5 1094.6L53.4 1089L75.4 1071.7Z" fill-opacity="0.07"/>
<path d="M83 1091.9L62.5 1094.6L75.4 1071.7Z" fill-opacity="0.04"/>
<path d="M201.3 978.2L219.5 960.6L194.3 972Z" fill-opacity="0.32"/>
<path d="M201.3 978.2L219.5 960.6L228.5 970.8Z" fill-opacity="0.36"/>
<path d="M148 1029.8L177.8 1003.3L146.1 1012.7Z" fill-opacity="0.38"/>
<path d="M148 1029.8L118.5 1033.9L146.1 1012.7Z" fill-opacity="0.29"/>
<path d="M172 973L157.4 987.8L194.3 972Z" fill-opacity="0.76"/>
<path d="M171.1 993L177.8 1003.3L146.1 1012.7Z" fill-opacity="0.43"/>
<path d="M171.1 993L157.4 987.8L146.1 1012.7Z" fill-opacity="0.56"/>
<path d="M171.1 993L157.4 987.8L194.3 972Z" fill-opacity="0.79"/>
<path d="M171.1 993L201.3 978.2L194.3 972Z" fill-opacity="0.63"/>
<path d="M171.1 993L201.3 978.2L177.8 1003.3Z" fill-opacity="0.29"/>
<path d="M235.1 955.5L225.2 952.8L246.7 961.3Z" fill-opacity="0.13"/>
<path d="M74.9 1042.4L61.7 1061.8L70.5 1050.3Z" fill-opacity="0.13"/>
<path d="M68.3 1062.9L53.4 1089L75.4 1071.7Z" fill-opacity="0.08"/>
<path d="M68.3 1062.9L88.2 1037.4L70.5 1050.3Z" fill-opacity="0.21"/>
<path d="M55.8 1075.3L61.7 1061.8L49 1088.3Z" fill-opacity="0.05"/>
<path d="M55.8 1075.3L61.7 1061.8L70.5 1050.3Z" fill-opacity="0.10"/>
<path d="M55.8 1075.3L68.3 1062.9L70.5 1050.3Z" fill-opacity="0.14"/>
<path d="M55.8 1075.3L68.3 1062.9L53.4 1089Z" fill-opacity="0.07"/>
<path d="M91.4 1066.2L83 1091.9L75.4 1071.7Z" fill-opacity="0.05"/>
<path d="M94.5 1047.8L68.3 1062.9L75.4 1071.7Z" fill-opacity="0.27"/>
<path d="M94.5 1047.8L68.3 1062.9L88.2 1037.4Z" fill-opacity="0.28"/>
<path d="M94.5 1047.8L91.4 1066.2L75.4 1071.7Z" fill-opacity="0.19"/>
<path d="M94.5 1047.8L91.4 1066.2L118.5 1033.9Z" fill-opacity="0.16"/>
<path d="M242.5 969.4L252.2 973.3L246.7 961.3Z" fill-opacity="0.05"/>
<path d="M227.2 986.9L242.5 969.4L228.5 970.8Z" fill-opacity="0.06"/>
<path d="M227.2 986.9L242.5 969.4L243.3 985.2Z" fill-opacity="0.06"/>
<path d="M175.5 1023.1L148 1029.8L177.8 1003.3Z" fill-opacity="0.24"/>
<path d="M175.5 1023.1L148 1029.8L148.4 1049.4Z" fill-opacity="0.11"/>
<path d="M175.5 1023.1L167.2 1045L148.4 1049.4Z" fill-opacity="0.06"/>
<path d="M106.9 1025.1L94.5 1047.8L88.2 1037.4Z" fill-opacity="0.31"/>
<path d="M106.9 1025.1L94.5 1047.8L118.5 1033.9Z" fill-opacity="0.38"/>
<path d="M106.9 1025.1L116.8 1004.1L88.2 1037.4Z" fill-opacity="0.61"/>
<path d="M106.9 1025.1L116.8 1004.1L134.9 993.4Z" fill-opacity="0.54"/>
<path d="M205.2 956.7L219.5 960.6L194.3 972Z" fill-opacity="0.61"/>
<path d="M205.2 956.7L172 973L194.3 972Z" fill-opacity="0.63"/>
<path d="M205.2 956.7L225.2 952.8L203.2 954.3Z" fill-opacity="0.50"/>
<path d="M205.2 956.7L225.2 952.8L219.5 960.6Z" fill-opacity="0.44"/>
<path d="M152.6 978.7L134.9 993.4L157.4 987.8Z" fill-opacity="0.83"/>
<path d="M152.6 978.7L172 973L157.4 987.8Z" fill-opacity="0.85"/>
<path d="M116.4 1055.7L91.4 1066.2L111.8 1072.9Z" fill-opacity="0.05"/>
<path d="M116.4 1055.7L91.4 1066.2L118.5 1033.9Z" fill-opacity="0.20"/>
<path d="M116.4 1055.7L148 1029.8L118.5 1033.9Z" fill-opacity="0.17"/>
<path d="M116.4 1055.7L111.8 1072.9L148.4 1049.4Z" fill-opacity="0.07"/>
<path d="M116.4 1055.7L148 1029.8L148.4 1049.4Z" fill-opacity="0.08"/>
<path d="M232.7 957L225.2 952.8L219.5 960.6Z" fill-opacity="0.44"/>
<path d="M232.7 957L219.5 960.6L228.5 970.8Z" fill-opacity="0.17"/>
<path d="M232.7 957L242.5 969.4L228.5 970.8Z" fill-opacity="0.14"/>
<path d="M232.7 957L225.2 952.8L246.7 961.3Z" fill-opacity="0.14"/>
<path d="M232.7 957L242.5 969.4L246.7 961.3Z" fill-opacity="0.07"/>
<path d="M204.9 994L201.3 978.2L228.5 970.8Z" fill-opacity="0.16"/>
<path d="M204.9 994L227.2 986.9L228.5 970.8Z" fill-opacity="0.19"/>
<path d="M204.9 994L227.2 986.9L203.1 1011.7Z" fill-opacity="0.08"/>
<path d="M204.9 994L201.3 978.2L177.8 1003.3Z" fill-opacity="0.32"/>
<path d="M204.9 994L175.5 1023.1L177.8 1003.3Z" fill-opacity="0.12"/>
<path d="M204.9 994L175.5 1023.1L203.1 1011.7Z" fill-opacity="0.14"/>
<path d="M223.3 1009.2L227.2 986.9L203.1 1011.7Z" fill-opacity="0.03"/>
<path d="M90 1028.6L88.2 1037.4L70.5 1050.3Z" fill-opacity="0.37"/>
<path d="M90 1028.6L116.8 1004.1L88.2 1037.4Z" fill-opacity="0.50"/>
<path d="M90 1028.6L116.8 1004.1L106.1 1009Z" fill-opacity="0.74"/>
<path d="M90 1028.6L74.9 1042.4L106.1 1009Z" fill-opacity="0.42"/>
<path d="M90 1028.6L74.9 1042.4L70.5 1050.3Z" fill-opacity="0.35"/>
<path d="M130.9 1007.8L134.9 993.4L157.4 987.8Z" fill-opacity="0.59"/>
<path d="M130.9 1007.8L106.9 1025.1L134.9 993.4Z" fill-opacity="0.51"/>
<path d="M130.9 1007.8L157.4 987.8L146.1 1012.7Z" fill-opacity="0.62"/>
<path d="M130.9 1007.8L118.5 1033.9L146.1 1012.7Z" fill-opacity="0.59"/>
<path d="M130.9 1007.8L106.9 1025.1L118.5 1033.9Z" fill-opacity="0.38"/>
<path d="M133.4 987.6L116.8 1004.1L106.1 1009Z" fill-opacity="0.68"/>
<path d="M133.4 987.6L116.8 1004.1L134.9 993.4Z" fill-opacity="0.75"/>
<path d="M133.4 987.6L152.6 978.7L134.9 993.4Z" fill-opacity="0.85"/>
<path d="M182.2 961.4L205.2 956.7L203.2 954.3Z" fill-opacity="0.45"/>
<path d="M182.2 961.4L205.2 956.7L172 973Z" fill-opacity="0.82"/>
<path d="M182.2 961.4L152.6 978.7L172 973Z" fill-opacity="0.63"/>
<path d="M162.3 970.1L133.4 987.6L152.6 978.7Z" fill-opacity="0.59"/>
<path d="M162.3 970.1L182.2 961.4L152.6 978.7Z" fill-opacity="0.81"/>
</g>
<path d="M196.9 1077.3L212.3 1062.3M196.9 1077.3L174.4 1097.1M196.9 1077.3L194.8 1078.3M212.3 1062.3L231.3 1038.3M212.3 1062.3L194.8 1078.3M212.3 1062.3L221 1047.6M174.4 1097.1L194.8 1078.3M174.4 1097.1L147.9 1114.7M174.4 1097.1L164.8 1101.4M231.3 1038.3L248.5 1008.7M231.3 1038.3L221 1047.6M231.3 1038.3L244.7 1013M231.3 1038.3L230.5 1026.6M194.8 1078.3L221 1047.6M194.8 1078.3L164.8 1101.4M194.8 1078.3L198.4 1067.2M194.8 1078.3L167.5 1093.2M248.5 1008.7L244.7 1013M248.5 1008.7L253.8 987M248.5 1008.7L251.4 993.3M147.9 1114.7L164.8 1101.4M221 1047.6L198.4 1067.2M221 1047.6L230.5 1026.6M221 1047.6L211.1 1047.7M164.8 1101.4L167.5 1093.2M164.8 1101.4L136.1 1114.5M244.7 1013L230.5 1026.6M244.7 1013L251.4 993.3M244.7 1013L239.3 1003.5M198.4 1067.2L167.5 1093.2M198.4 1067.2L211.1 1047.7M198.4 1067.2L175.1 1078.6M253.8 987L251.4 993.3M253.8 987L252.2 973.3M230.5 1026.6L211.1 1047.7M230.5 1026.6L239.3 1003.5M230.5 1026.6L217.5 1026.2M167.5 1093.2L136.1 1114.5M167.5 1093.2L175.1 1078.6M167.5 1093.2L140.1 1103.5M251.4 993.3L239.3 1003.5M251.4 993.3L252.2 973.3M251.4 993.3L243.3 985.2M211.1 1047.7L175.1 1078.6M211.1 1047.7L217.5 1026.2M211.1 1047.7L183.5 1059.5M136.1 1114.5L140.1 1103.5M239.3 1003.5L217.5 1026.2M239.3 1003.5L243.3 985.2M239.3 1003.5L223.3 1009.2M175.1 1078.6L140.1 1103.5M175.1 1078.6L183.5 1059.5M175.1 1078.6L148.2 1088M252.2 973.3L243.3 985.2M252.2 973.3L246.7 961.3M252.2 973.3L242.5 969.4M217.5 1026.2L183.5 1059.5M217.5 1026.2L223.3 1009.2M217.5 1026.2L197 1034.4M140.1 1103.5L148.2 1088M140.1 1103.5L114 1112.5M243.3 985.2L223.3 1009.2M243.3 985.2L242.5 969.4M243.3 985.2L227.2 986.9M183.5 1059.5L148.2 1088M183.5 1059.5L197 1034.4M183.5 1059.5L162.6 1064.1M246.7 961.3L242.5 969.4M246.7 961.3L235.1 955.5M246.7 961.3L232.7 957M246.7 961.3L225.2 952.8M223.3 1009.2L197 1034.4M223.3 1009.2L227.2 986.9M223.3 1009.2L203.1 1011.7M148.2 1088L114 1112.5M148.2 1088L162.6 1064.1M148.2 1088L124.6 1091.9M242.5 969.4L227.2 986.9M242.5 969.4L232.7 957M242.5 969.4L228.5 970.8M197 1034.4L162.6 1064.1M197 1034.4L203.1 1011.7M197 1034.4L167.2 1045M235.1 955.5L225.2 952.8M114 1112.5L124.6 1091.9M114 1112.5L87.8 1114.4M227.2 986.9L203.1 1011.7M227.2 986.9L228.5 970.8M227.2 986.9L204.9 994M162.6 1064.1L124.6 1091.9M162.6 1064.1L167.2 1045M162.6 1064.1L133.1 1072.2M232.7 957L228.5 970.8M232.7 957L225.2 952.8M232.7 957L219.5 960.6M203.1 1011.7L167.2 1045M203.1 1011.7L204.9 994M203.1 1011.7L175.5 1023.1M124.6 1091.9L87.8 1114.4M124.6 1091.9L133.1 1072.2M124.6 1091.9L100.7 1094.5M228.5 970.8L204.9 994M228.5 970.8L219.5 960.6M228.5 970.8L201.3 978.2M167.2 1045L133.1 1072.2M167.2 1045L175.5 1023.1M167.2 1045L148.4 1049.4M225.2 952.8L219.5 960.6M225.2 952.8L203.2 954.3M225.2 952.8L205.2 956.7M87.8 1114.4L100.7 1094.5M87.8 1114.4L73.7 1108.9M204.9 994L175.5 1023.1M204.9 994L201.3 978.2M204.9 994L177.8 1003.3M133.1 1072.2L100.7 1094.5M133.1 1072.2L148.4 1049.4M133.1 1072.2L111.8 1072.9M219.5 960.6L201.3 978.2M219.5 960.6L205.2 956.7M219.5 960.6L194.3 972M175.5 1023.1L148.4 1049.4M175.5 1023.1L177.8 1003.3M175.5 1023.1L148 1029.8M203.2 954.3L205.2 956.7M203.2 954.3L182.2 961.4M100.7 1094.5L73.7 1108.9M100.7 1094.5L111.8 1072.9M100.7 1094.5L83 1091.9M201.3 978.2L177.8 1003.3M201.3 978.2L194.3 972M201.3 978.2L171.1 993M148.4 1049.4L111.8 1072.9M148.4 1049.4L148 1029.8M148.4 1049.4L116.4 1055.7M205.2 956.7L194.3 972M205.2 956.7L182.2 961.4M205.2 956.7L172 973M73.7 1108.9L55 1114.1M73.7 1108.9L83 1091.9M73.7 1108.9L62.5 1094.6M177.8 1003.3L148 1029.8M177.8 1003.3L171.1 993M177.8 1003.3L146.1 1012.7M111.8 1072.9L83 1091.9M111.8 1072.9L116.4 1055.7M111.8 1072.9L91.4 1066.2M194.3 972L171.1 993M194.3 972L172 973M194.3 972L157.4 987.8M55 1114.1L47.1 1103.1M55 1114.1L62.5 1094.6M55 1114.1L53.4 1089M148 1029.8L116.4 1055.7M148 1029.8L146.1 1012.7M148 1029.8L118.5 1033.9M182.2 961.4L172 973M182.2 961.4L162.3 970.1M182.2 961.4L152.6 978.7M83 1091.9L62.5 1094.6M83 1091.9L91.4 1066.2M83 1091.9L75.4 1071.7M171.1 993L146.1 1012.7M171.1 993L157.4 987.8M47.1 1103.1L49 1088.3M47.1 1103.1L53.4 1089M47.1 1103.1L55.8 1075.3M116.4 1055.7L91.4 1066.2M116.4 1055.7L118.5 1033.9M172 973L157.4 987.8M172 973L152.6 978.7M62.5 1094.6L53.4 1089M62.5 1094.6L75.4 1071.7M146.1 1012.7L157.4 987.8M146.1 1012.7L118.5 1033.9M146.1 1012.7L130.9 1007.8M49 1088.3L61.7 1061.8M49 1088.3L55.8 1075.3M162.3 970.1L152.6 978.7M162.3 970.1L133.4 987.6M91.4 1066.2L118.5 1033.9M91.4 1066.2L75.4 1071.7M91.4 1066.2L94.5 1047.8M157.4 987.8L152.6 978.7M157.4 987.8L130.9 1007.8M157.4 987.8L134.9 993.4M53.4 1089L75.4 1071.7M53.4 1089L55.8 1075.3M53.4 1089L68.3 1062.9M118.5 1033.9L130.9 1007.8M118.5 1033.9L94.5 1047.8M118.5 1033.9L106.9 1025.1M61.7 1061.8L55.8 1075.3M61.7 1061.8L74.9 1042.4M61.7 1061.8L70.5 1050.3M152.6 978.7L133.4 987.6M152.6 978.7L134.9 993.4M75.4 1071.7L94.5 1047.8M75.4 1071.7L68.3 1062.9M130.9 1007.8L134.9 993.4M130.9 1007.8L106.9 1025.1M55.8 1075.3L68.3 1062.9M55.8 1075.3L70.5 1050.3M133.4 987.6L134.9 993.4M133.4 987.6L106.1 1009M133.4 987.6L116.8 1004.1M94.5 1047.8L68.3 1062.9M94.5 1047.8L106.9 1025.1M94.5 1047.8L88.2 1037.4M74.9 1042.4L106.1 1009M74.9 1042.4L70.5 1050.3M74.9 1042.4L90 1028.6M134.9 993.4L106.9 1025.1M134.9 993.4L116.8 1004.1M68.3 1062.9L70.5 1050.3M68.3 1062.9L88.2 1037.4M106.1 1009L116.8 1004.1M106.1 1009L90 1028.6M106.9 1025.1L116.8 1004.1M106.9 1025.1L88.2 1037.4M70.5 1050.3L88.2 1037.4M70.5 1050.3L90 1028.6M116.8 1004.1L88.2 1037.4M116.8 1004.1L90 1028.6M88.2 1037.4L90 1028.6" fill="none" stroke="#96d7ff" stroke-opacity="0.85" stroke-width="0.7"/>
<g fill="url(#dotglow)" fill-opacity="0.8"><circle cx="196.9" cy="1077.3" r="7.9"/><circle cx="212.3" cy="1062.3" r="8.7"/><circle cx="147.9" cy="1114.7" r="4.3"/><circle cx="183.5" cy="1059.5" r="8.6"/><circle cx="246.7" cy="961.3" r="6.5"/><circle cx="148.2" cy="1088" r="3.7"/><circle cx="197" cy="1034.4" r="8.2"/><circle cx="235.1" cy="955.5" r="3.9"/><circle cx="162.6" cy="1064.1" r="8"/><circle cx="204.9" cy="994" r="6.9"/><circle cx="205.2" cy="956.7" r="5.2"/><circle cx="73.7" cy="1108.9" r="8.8"/><circle cx="111.8" cy="1072.9" r="4.1"/><circle cx="148" cy="1029.8" r="5"/><circle cx="49" cy="1088.3" r="8.2"/><circle cx="162.3" cy="970.1" r="4.3"/><circle cx="152.6" cy="978.7" r="6.7"/><circle cx="133.4" cy="987.6" r="5.8"/><circle cx="74.9" cy="1042.4" r="7.1"/><circle cx="113.7" cy="1096.3" r="3.9"/><circle cx="169.1" cy="1023.8" r="6.8"/><circle cx="149.7" cy="1015.8" r="6"/><circle cx="59.4" cy="1106.8" r="6.8"/><circle cx="179" cy="1080.9" r="5.3"/><circle cx="130.2" cy="1077.1" r="5.5"/><circle cx="200.8" cy="1048.5" r="5.1"/><circle cx="88.2" cy="1056.3" r="4.1"/><circle cx="180.7" cy="1018.2" r="6.8"/><circle cx="151.3" cy="1002.3" r="4.6"/><circle cx="77.8" cy="1117.2" r="6.7"/><circle cx="116.1" cy="1057.5" r="6.2"/><circle cx="156.5" cy="1043.8" r="6.4"/></g>
<g fill="#e4f5ff"><circle cx="196.9" cy="1077.3" r="1.8"/><circle cx="212.3" cy="1062.3" r="1.9"/><circle cx="174.4" cy="1097.1" r="1.4"/><circle cx="194.8" cy="1078.3" r="1.5"/><circle cx="147.9" cy="1114.7" r="1"/><circle cx="221" cy="1047.6" r="1.9"/><circle cx="198.4" cy="1067.2" r="1.3"/><circle cx="167.5" cy="1093.2" r="1.2"/><circle cx="251.4" cy="993.3" r="1.8"/><circle cx="136.1" cy="1114.5" r="1"/><circle cx="239.3" cy="1003.5" r="1.6"/><circle cx="175.1" cy="1078.6" r="1.4"/><circle cx="252.2" cy="973.3" r="1.6"/><circle cx="243.3" cy="985.2" r="1.6"/><circle cx="183.5" cy="1059.5" r="1.9"/><circle cx="246.7" cy="961.3" r="1.5"/><circle cx="223.3" cy="1009.2" r="1.6"/><circle cx="148.2" cy="1088" r="0.8"/><circle cx="242.5" cy="969.4" r="1.5"/><circle cx="197" cy="1034.4" r="1.8"/><circle cx="235.1" cy="955.5" r="0.9"/><circle cx="162.6" cy="1064.1" r="1.8"/><circle cx="232.7" cy="957" r="1.2"/><circle cx="124.6" cy="1091.9" r="1.6"/><circle cx="225.2" cy="952.8" r="1.4"/><circle cx="87.8" cy="1114.4" r="1.2"/><circle cx="204.9" cy="994" r="1.5"/><circle cx="219.5" cy="960.6" r="1.8"/><circle cx="175.5" cy="1023.1" r="1.3"/><circle cx="203.2" cy="954.3" r="1.1"/><circle cx="100.7" cy="1094.5" r="1"/><circle cx="201.3" cy="978.2" r="1.2"/><circle cx="205.2" cy="956.7" r="1.2"/><circle cx="73.7" cy="1108.9" r="1.9"/><circle cx="111.8" cy="1072.9" r="0.9"/><circle cx="194.3" cy="972" r="1.2"/><circle cx="148" cy="1029.8" r="1.1"/><circle cx="83" cy="1091.9" r="1.8"/><circle cx="171.1" cy="993" r="1.6"/><circle cx="49" cy="1088.3" r="1.8"/><circle cx="162.3" cy="970.1" r="1"/><circle cx="157.4" cy="987.8" r="1.8"/><circle cx="53.4" cy="1089" r="1.7"/><circle cx="61.7" cy="1061.8" r="1.4"/><circle cx="152.6" cy="978.7" r="1.5"/><circle cx="75.4" cy="1071.7" r="1.9"/><circle cx="133.4" cy="987.6" r="1.3"/><circle cx="74.9" cy="1042.4" r="1.6"/><circle cx="134.9" cy="993.4" r="1.8"/><circle cx="70.5" cy="1050.3" r="1.5"/><circle cx="116.8" cy="1004.1" r="1.9"/><circle cx="88.2" cy="1037.4" r="1.3"/><circle cx="90" cy="1028.6" r="0.9"/></g>
<circle cx="790" cy="795" r="110" fill="url(#sphglow)" opacity="0.35"/>
<g clip-path="url(#cFrag)"><rect x="730" y="810" width="130" height="70" fill="#093a78"/>
<g fill="#78cdf8">
<path d="M734.4 840.4L750.2 853L738.9 851.2Z" fill-opacity="0.75"/>
<path d="M727.8 839.6L734.4 840.4L724.1 827.3Z" fill-opacity="0.80"/>
<path d="M727.8 839.6L716 822.1L724.1 827.3Z" fill-opacity="0.65"/>
<path d="M727.8 839.6L734.4 840.4L738.9 851.2Z" fill-opacity="0.85"/>
<path d="M727.8 839.6L727.5 840.7L738.9 851.2Z" fill-opacity="0.71"/>
<path d="M740.7 854.1L727.5 840.7L738.9 851.2Z" fill-opacity="0.62"/>
<path d="M764.5 828.2L760 807.4L749.3 825.7Z" fill-opacity="0.34"/>
<path d="M764.5 828.2L760 807.4L778.8 814.3Z" fill-opacity="0.25"/>
<path d="M767.1 791.9L760 807.4L778.8 814.3Z" fill-opacity="0.15"/>
<path d="M767.1 791.9L760 807.4L747.5 790.6Z" fill-opacity="0.27"/>
<path d="M743.2 810.4L727.6 798.7L747.5 790.6Z" fill-opacity="0.41"/>
<path d="M743.2 810.4L760 807.4L749.3 825.7Z" fill-opacity="0.45"/>
<path d="M743.2 810.4L760 807.4L747.5 790.6Z" fill-opacity="0.41"/>
<path d="M738.5 831.3L734.4 840.4L724.1 827.3Z" fill-opacity="0.87"/>
<path d="M718 809.4L716 822.1L724.1 827.3Z" fill-opacity="0.70"/>
<path d="M787.7 829.7L802.7 811.2L807.2 823.7Z" fill-opacity="0.05"/>
<path d="M787.7 829.7L802.7 811.2L778.8 814.3Z" fill-opacity="0.06"/>
<path d="M787.7 829.7L764.5 828.2L778.8 814.3Z" fill-opacity="0.22"/>
<path d="M787.7 829.7L764.5 828.2L770 843.6Z" fill-opacity="0.22"/>
<path d="M757.1 862.4L773.1 864.4L750.2 853Z" fill-opacity="0.45"/>
<path d="M757.1 862.4L773.1 864.4L772.5 870.4Z" fill-opacity="0.33"/>
<path d="M757.1 862.4L750.2 853L738.9 851.2Z" fill-opacity="0.52"/>
<path d="M766.3 854.1L770 843.6L786.8 851.9Z" fill-opacity="0.16"/>
<path d="M766.3 854.1L773.1 864.4L750.2 853Z" fill-opacity="0.35"/>
<path d="M816.7 873.5L802.4 873.7L794.1 874.8Z" fill-opacity="0.04"/>
<path d="M755.7 864L757.1 862.4L772.5 870.4Z" fill-opacity="0.31"/>
<path d="M755.7 864L740.7 854.1L738.9 851.2Z" fill-opacity="0.54"/>
<path d="M755.7 864L757.1 862.4L738.9 851.2Z" fill-opacity="0.40"/>
<path d="M730.2 814.1L743.2 810.4L727.6 798.7Z" fill-opacity="0.44"/>
<path d="M730.2 814.1L718 809.4L727.6 798.7Z" fill-opacity="0.79"/>
<path d="M730.2 814.1L743.2 810.4L749.3 825.7Z" fill-opacity="0.40"/>
<path d="M730.2 814.1L738.5 831.3L749.3 825.7Z" fill-opacity="0.45"/>
<path d="M730.2 814.1L738.5 831.3L724.1 827.3Z" fill-opacity="0.84"/>
<path d="M730.2 814.1L718 809.4L724.1 827.3Z" fill-opacity="0.86"/>
<path d="M717.1 791.9L718 809.4L727.6 798.7Z" fill-opacity="0.87"/>
<path d="M790.2 865.3L801.5 858.2L806.1 868.9Z" fill-opacity="0.07"/>
<path d="M790.2 865.3L801.5 858.2L786.8 851.9Z" fill-opacity="0.13"/>
<path d="M790.2 865.3L766.3 854.1L786.8 851.9Z" fill-opacity="0.20"/>
<path d="M790.2 865.3L766.3 854.1L773.1 864.4Z" fill-opacity="0.25"/>
<path d="M797.5 843.9L801.5 858.2L786.8 851.9Z" fill-opacity="0.08"/>
<path d="M797.5 843.9L801.5 858.2L815.1 846.9Z" fill-opacity="0.04"/>
<path d="M797.5 843.9L770 843.6L786.8 851.9Z" fill-opacity="0.11"/>
<path d="M797.5 843.9L787.7 829.7L770 843.6Z" fill-opacity="0.16"/>
<path d="M797.5 843.9L787.7 829.7L807.2 823.7Z" fill-opacity="0.03"/>
<path d="M753.6 843.4L766.3 854.1L770 843.6Z" fill-opacity="0.25"/>
<path d="M753.6 843.4L738.5 831.3L749.3 825.7Z" fill-opacity="0.34"/>
<path d="M753.6 843.4L766.3 854.1L750.2 853Z" fill-opacity="0.45"/>
<path d="M753.6 843.4L764.5 828.2L749.3 825.7Z" fill-opacity="0.28"/>
<path d="M753.6 843.4L764.5 828.2L770 843.6Z" fill-opacity="0.43"/>
<path d="M753.6 843.4L734.4 840.4L750.2 853Z" fill-opacity="0.65"/>
<path d="M753.6 843.4L738.5 831.3L734.4 840.4Z" fill-opacity="0.49"/>
<path d="M714.2 820.8L727.8 839.6L716 822.1Z" fill-opacity="0.86"/>
<path d="M714.2 820.8L727.8 839.6L727.5 840.7Z" fill-opacity="0.87"/>
<path d="M783.8 870.7L790.2 865.3L773.1 864.4Z" fill-opacity="0.22"/>
<path d="M783.8 870.7L773.1 864.4L772.5 870.4Z" fill-opacity="0.35"/>
<path d="M783.8 870.7L802.4 873.7L806.1 868.9Z" fill-opacity="0.08"/>
<path d="M783.8 870.7L790.2 865.3L806.1 868.9Z" fill-opacity="0.11"/>
<path d="M783.8 870.7L772.5 870.4L794.1 874.8Z" fill-opacity="0.13"/>
<path d="M783.8 870.7L802.4 873.7L794.1 874.8Z" fill-opacity="0.10"/>
<path d="M783.8 798.7L802.7 811.2L778.8 814.3Z" fill-opacity="0.05"/>
<path d="M783.8 798.7L767.1 791.9L778.8 814.3Z" fill-opacity="0.16"/>
</g>
<path d="M786.8 851.9L797.5 843.9M786.8 851.9L770 843.6M786.8 851.9L801.5 858.2M786.8 851.9L766.3 854.1M786.8 851.9L790.2 865.3M797.5 843.9L770 843.6M797.5 843.9L801.5 858.2M797.5 843.9L787.7 829.7M797.5 843.9L815.1 846.9M797.5 843.9L807.2 823.7M770 843.6L787.7 829.7M770 843.6L766.3 854.1M770 843.6L764.5 828.2M770 843.6L753.6 843.4M801.5 858.2L815.1 846.9M801.5 858.2L790.2 865.3M801.5 858.2L818.6 856.9M801.5 858.2L806.1 868.9M787.7 829.7L764.5 828.2M787.7 829.7L807.2 823.7M787.7 829.7L778.8 814.3M787.7 829.7L802.7 811.2M766.3 854.1L790.2 865.3M766.3 854.1L753.6 843.4M766.3 854.1L773.1 864.4M766.3 854.1L750.2 853M815.1 846.9L807.2 823.7M815.1 846.9L818.6 856.9M815.1 846.9L826.1 832.2M815.1 846.9L833.6 849.4M764.5 828.2L753.6 843.4M764.5 828.2L778.8 814.3M764.5 828.2L749.3 825.7M764.5 828.2L760 807.4M790.2 865.3L773.1 864.4M790.2 865.3L806.1 868.9M790.2 865.3L783.8 870.7M807.2 823.7L826.1 832.2M807.2 823.7L802.7 811.2M807.2 823.7L824 817M753.6 843.4L749.3 825.7M753.6 843.4L750.2 853M753.6 843.4L738.5 831.3M753.6 843.4L734.4 840.4M818.6 856.9L806.1 868.9M818.6 856.9L833.6 849.4M818.6 856.9L825.7 864.9M778.8 814.3L802.7 811.2M778.8 814.3L760 807.4M778.8 814.3L783.8 798.7M778.8 814.3L767.1 791.9M773.1 864.4L750.2 853M773.1 864.4L783.8 870.7M773.1 864.4L757.1 862.4M773.1 864.4L772.5 870.4M826.1 832.2L833.6 849.4M826.1 832.2L824 817M826.1 832.2L843.5 834.6M826.1 832.2L843.4 815.5M749.3 825.7L760 807.4M749.3 825.7L738.5 831.3M749.3 825.7L743.2 810.4M749.3 825.7L730.2 814.1M806.1 868.9L783.8 870.7M806.1 868.9L825.7 864.9M806.1 868.9L802.4 873.7M806.1 868.9L823.1 870.8M802.7 811.2L824 817M802.7 811.2L783.8 798.7M802.7 811.2L817.5 804.1M802.7 811.2L800.9 787.2M750.2 853L757.1 862.4M750.2 853L734.4 840.4M750.2 853L738.9 851.2M833.6 849.4L825.7 864.9M833.6 849.4L843.5 834.6M833.6 849.4L844.5 854.6M833.6 849.4L855.5 836.4M760 807.4L743.2 810.4M760 807.4L767.1 791.9M760 807.4L747.5 790.6M783.8 870.7L802.4 873.7M783.8 870.7L772.5 870.4M783.8 870.7L794.1 874.8M824 817L817.5 804.1M824 817L843.4 815.5M824 817L835.4 796.9M738.5 831.3L734.4 840.4M738.5 831.3L730.2 814.1M738.5 831.3L724.1 827.3M825.7 864.9L844.5 854.6M825.7 864.9L823.1 870.8M825.7 864.9L845.3 860.2M783.8 798.7L767.1 791.9M783.8 798.7L800.9 787.2M757.1 862.4L772.5 870.4M757.1 862.4L738.9 851.2M757.1 862.4L755.7 864M843.5 834.6L843.4 815.5M843.5 834.6L855.5 836.4M843.5 834.6L857.1 820.3M743.2 810.4L730.2 814.1M743.2 810.4L747.5 790.6M743.2 810.4L727.6 798.7M802.4 873.7L823.1 870.8M802.4 873.7L794.1 874.8M802.4 873.7L816.7 873.5M817.5 804.1L800.9 787.2M817.5 804.1L835.4 796.9M817.5 804.1L816.4 778.6M734.4 840.4L738.9 851.2M734.4 840.4L724.1 827.3M734.4 840.4L727.8 839.6M844.5 854.6L855.5 836.4M844.5 854.6L845.3 860.2M844.5 854.6L860.5 844.4M767.1 791.9L747.5 790.6M772.5 870.4L794.1 874.8M772.5 870.4L755.7 864M843.4 815.5L835.4 796.9M843.4 815.5L857.1 820.3M843.4 815.5L851.5 796.7M730.2 814.1L724.1 827.3M730.2 814.1L727.6 798.7M730.2 814.1L718 809.4M823.1 870.8L845.3 860.2M823.1 870.8L816.7 873.5M823.1 870.8L840.9 865.6M800.9 787.2L816.4 778.6M738.9 851.2L755.7 864M738.9 851.2L727.8 839.6M738.9 851.2L740.7 854.1M738.9 851.2L727.5 840.7M855.5 836.4L857.1 820.3M855.5 836.4L860.5 844.4M855.5 836.4L867.6 823.5M747.5 790.6L727.6 798.7M794.1 874.8L816.7 873.5M835.4 796.9L816.4 778.6M835.4 796.9L851.5 796.7M724.1 827.3L727.8 839.6M724.1 827.3L718 809.4M724.1 827.3L716 822.1M845.3 860.2L860.5 844.4M845.3 860.2L840.9 865.6M845.3 860.2L861.5 850.7M755.7 864L740.7 854.1M857.1 820.3L851.5 796.7M857.1 820.3L867.6 823.5M857.1 820.3L865.2 802.3M727.6 798.7L718 809.4M727.6 798.7L717.1 791.9M816.7 873.5L840.9 865.6M727.8 839.6L716 822.1M727.8 839.6L727.5 840.7M727.8 839.6L714.2 820.8M860.5 844.4L867.6 823.5M860.5 844.4L861.5 850.7M860.5 844.4L874.8 829.2M860.5 844.4L874.5 837.8M851.5 796.7L865.2 802.3M851.5 796.7L867.1 781.8M718 809.4L716 822.1M718 809.4L717.1 791.9M840.9 865.6L861.5 850.7M840.9 865.6L856.2 856.6M740.7 854.1L727.5 840.7M867.6 823.5L865.2 802.3M867.6 823.5L874.8 829.2M867.6 823.5L875.3 807.9M867.6 823.5L882.4 813.1M716 822.1L714.2 820.8M861.5 850.7L856.2 856.6M861.5 850.7L874.5 837.8M861.5 850.7L871.1 842.7M865.2 802.3L875.3 807.9M865.2 802.3L867.1 781.8M865.2 802.3L880.4 789M727.5 840.7L714.2 820.8M874.8 829.2L874.5 837.8M874.8 829.2L882.4 813.1M874.8 829.2L884.9 820.6M856.2 856.6L871.1 842.7M875.3 807.9L882.4 813.1M875.3 807.9L880.4 789M875.3 807.9L887.7 796.2M874.5 837.8L871.1 842.7M874.5 837.8L884.9 820.6M874.5 837.8L881 828.8M867.1 781.8L880.4 789M882.4 813.1L884.9 820.6M882.4 813.1L887.7 796.2M880.4 789L887.7 796.2M884.9 820.6L881 828.8" fill="none" stroke="#96d7ff" stroke-opacity="0.8" stroke-width="0.7"/>
<g fill="url(#dotglow)" fill-opacity="0.8"><circle cx="797.5" cy="843.9" r="8.7"/><circle cx="801.5" cy="858.2" r="8.2"/><circle cx="787.7" cy="829.7" r="5.5"/><circle cx="738.5" cy="831.3" r="7.7"/><circle cx="743.2" cy="810.4" r="6.8"/><circle cx="835.4" cy="796.9" r="8.1"/><circle cx="857.1" cy="820.3" r="7.7"/><circle cx="816.4" cy="778.6" r="4.5"/><circle cx="718" cy="809.4" r="4.2"/><circle cx="856.2" cy="856.6" r="4"/><circle cx="875.3" cy="807.9" r="8.3"/><circle cx="867.1" cy="781.8" r="7.4"/><circle cx="882.4" cy="813.1" r="6.2"/><circle cx="880.4" cy="789" r="8.2"/><circle cx="887.7" cy="796.2" r="6"/><circle cx="799.7" cy="796.5" r="3.9"/><circle cx="741.8" cy="798.4" r="6.1"/><circle cx="721.1" cy="763.2" r="7"/><circle cx="843.3" cy="811" r="5.7"/><circle cx="750.4" cy="791.6" r="5.7"/><circle cx="779.9" cy="728.6" r="5.5"/><circle cx="740.8" cy="739.9" r="5.1"/><circle cx="848" cy="774.2" r="5.5"/><circle cx="780.3" cy="842.5" r="4"/><circle cx="856.7" cy="821.7" r="6.6"/><circle cx="829.6" cy="780" r="6.4"/><circle cx="741.8" cy="732.3" r="4"/><circle cx="835.6" cy="713.2" r="5.8"/><circle cx="816.8" cy="735.7" r="5.1"/><circle cx="822.8" cy="784.7" r="5.4"/><circle cx="735.8" cy="801.4" r="4.5"/><circle cx="853.9" cy="794.7" r="5.5"/><circle cx="739.3" cy="789.1" r="7"/><circle cx="797.9" cy="705" r="5.8"/><circle cx="827.7" cy="788.4" r="4.2"/><circle cx="881.8" cy="770.4" r="6.5"/><circle cx="777.4" cy="833.6" r="5.7"/><circle cx="746" cy="789.1" r="7.1"/><circle cx="775.5" cy="797" r="4.2"/></g>
<g fill="#e4f5ff"><circle cx="786.8" cy="851.9" r="1.3"/><circle cx="797.5" cy="843.9" r="1.9"/><circle cx="770" cy="843.6" r="1"/><circle cx="801.5" cy="858.2" r="1.8"/><circle cx="787.7" cy="829.7" r="1.2"/><circle cx="764.5" cy="828.2" r="1.4"/><circle cx="790.2" cy="865.3" r="1.6"/><circle cx="807.2" cy="823.7" r="1.6"/><circle cx="753.6" cy="843.4" r="1.6"/><circle cx="802.7" cy="811.2" r="1.1"/><circle cx="738.5" cy="831.3" r="1.7"/><circle cx="743.2" cy="810.4" r="1.5"/><circle cx="802.4" cy="873.7" r="1.7"/><circle cx="844.5" cy="854.6" r="1.1"/><circle cx="772.5" cy="870.4" r="1.2"/><circle cx="843.4" cy="815.5" r="1.9"/><circle cx="800.9" cy="787.2" r="0.9"/><circle cx="747.5" cy="790.6" r="1.1"/><circle cx="835.4" cy="796.9" r="1.8"/><circle cx="724.1" cy="827.3" r="1"/><circle cx="845.3" cy="860.2" r="1.6"/><circle cx="755.7" cy="864" r="1.1"/><circle cx="857.1" cy="820.3" r="1.7"/><circle cx="816.7" cy="873.5" r="1.8"/><circle cx="816.4" cy="778.6" r="1"/><circle cx="860.5" cy="844.4" r="1.1"/><circle cx="718" cy="809.4" r="0.9"/><circle cx="867.6" cy="823.5" r="0.9"/><circle cx="716" cy="822.1" r="1.2"/><circle cx="861.5" cy="850.7" r="1.3"/><circle cx="865.2" cy="802.3" r="1.6"/><circle cx="727.5" cy="840.7" r="1"/><circle cx="856.2" cy="856.6" r="0.9"/><circle cx="875.3" cy="807.9" r="1.8"/><circle cx="714.2" cy="820.8" r="1.4"/><circle cx="867.1" cy="781.8" r="1.6"/><circle cx="882.4" cy="813.1" r="1.4"/><circle cx="880.4" cy="789" r="1.8"/><circle cx="887.7" cy="796.2" r="1.3"/></g>
</g>
<path d="M827 812 L854.5 812 L843 826.6 L820.7 849 L788 874.7 L761 874.7 L741 866 L759 858 L802 839 Z" fill="#02050c"/>
<rect x="0" y="1087.5" width="880" height="1.5" fill="#9a9ea8" fill-opacity="0.85"/>
<rect x="0" y="0" width="880" height="1" fill="#7f95a8" fill-opacity="0.35"/>
<rect x="0" y="0" width="1" height="1089" fill="#7f95a8" fill-opacity="0.4"/>
<rect x="879" y="812" width="1" height="277" fill="#a0a4b0" fill-opacity="0.8"/>
<rect x="879" y="0" width="1" height="53" fill="#a0a4b0" fill-opacity="0.5"/>
</svg>
<div id="panel"></div>
<div class="bar"></div>
<div class="t" style="top:106.4px;transform:scaleX(1.0359)">ΠΕΡΙΟΧΕΣ ΚΑΤΟΙΚΙΑΣ</div>
<div class="t" style="top:134.0px;transform:scaleX(1.0267)">ΕΠΙΒΕΒΑΙΩΜΕΝΩΝ</div>
<div class="t" style="top:161.4px;transform:scaleX(1.0595)">ΚΡΟΥΣΜΑΤΩΝ</div>
<div class="cv" style="top:190.4px;transform:scaleX(1.2164)">COVID-19</div>
<div class="badge"><svg width="118" height="119" viewBox="0 0 118 119" role="img"><title>22</title><path fill="#fff" d="M28.2 26.6H51L53.8 29.5V47.9H33.4V58.6H50L53 63.3H28.7V43.2H49.1V31.3H32.9Z"/><path fill="#fff" transform="translate(33.7 0)" d="M28.2 26.6H51L53.8 29.5V47.9H33.4V58.6H50L53 63.3H28.7V43.2H49.1V31.3H32.9Z"/></svg><div class="m" style="top:69.4px;font-size:12.6px;line-height:12px;letter-spacing:2.3px;padding-left:2.9px;box-sizing:border-box">ΜΑΡΤΙΟΥ</div><div class="m" style="top:84.2px;font-size:17.6px;line-height:16px;letter-spacing:3.1px;padding-left:2.4px;box-sizing:border-box">2020</div></div>
<div class="hl" style="top:301.8px"></div><div class="hl" style="top:338.8px"></div><div class="hl" style="top:764.7px"></div>
<div class="c" style="left:84.0px;top:312.8px;transform:scaleX(1.1496)">Περιφερειακή ενότητα</div>
<div class="c" style="left:292.2px;top:312.8px;transform:scaleX(1.1151)">Αριθμός κρουσμάτων</div>
<div class="c" style="left:492.6px;top:312.8px;transform:scaleX(1.1439)">Περιφερειακή ενότητα</div>
<div class="c" style="left:700.9px;top:312.8px;transform:scaleX(1.1151)">Αριθμός κρουσμάτων</div>
<div class="c" style="left:83.5px;top:349.0px;transform:scaleX(1.0826)">Αθηνών</div>
<div class="n" style="left:349.3px;top:349.9px">292</div>
<div class="c" style="left:84.1px;top:375.3px;transform:scaleX(1.1050)">Ηλείας</div>
<div class="n" style="left:349.3px;top:376.2px">43</div>
<div class="c" style="left:83.5px;top:401.6px;transform:scaleX(1.1300)">Ανατολικής Αττικής</div>
<div class="n" style="left:349.3px;top:402.5px">25</div>
<div class="c" style="left:84.1px;top:428.4px;transform:scaleX(1.1179)">Πειραιώς</div>
<div class="n" style="left:349.3px;top:429.3px">22</div>
<div class="c" style="left:84.1px;top:454.8px;transform:scaleX(1.1094)">Καστοριάς</div>
<div class="n" style="left:349.3px;top:455.7px">17</div>
<div class="c" style="left:83.5px;top:489.8px;transform:scaleX(1.0968)">Θεσσαλονίκης</div>
<div class="n" style="left:349.3px;top:490.7px">16</div>
<div class="c" style="left:83.5px;top:516.5px;transform:scaleX(1.0882)">Αχαΐας</div>
<div class="n" style="left:349.3px;top:517.4px">11</div>
<div class="c" style="left:83.5px;top:543.0px;transform:scaleX(1.1110)">Λαρίσης</div>
<div class="n" style="left:349.3px;top:543.9px">8</div>
<div class="c" style="left:84.1px;top:569.3px;transform:scaleX(1.0667)">Εβρου</div>
<div class="n" style="left:349.3px;top:570.2px">7</div>
<div class="c" style="left:83.5px;top:595.8px;transform:scaleX(1.1016)">Ζακύνθου</div>
<div class="n" style="left:349.3px;top:596.7px">5</div>
<div class="c" style="left:84.1px;top:631.7px;transform:scaleX(1.0806)">Κοζάνης</div>
<div class="n" style="left:349.3px;top:632.6px">5</div>
<div class="c" style="left:83.1px;top:657.7px;transform:scaleX(1.1426)">Δυτικής Αττικής</div>
<div class="n" style="left:349.3px;top:658.6px">4</div>
<div class="c" style="left:84.1px;top:684.2px;transform:scaleX(1.1246)">Ηρακλείου</div>
<div class="n" style="left:349.3px;top:685.1px">4</div>
<div class="c" style="left:84.1px;top:710.8px;transform:scaleX(1.1274)">Πιερίας</div>
<div class="n" style="left:349.3px;top:711.7px">3</div>
<div class="c" style="left:84.1px;top:736.8px;transform:scaleX(1.0859)">Εύβοιας</div>
<div class="n" style="left:349.3px;top:737.7px">2</div>
<div class="c" style="left:493.2px;top:349.0px;transform:scaleX(1.0828)">Ιωαννίνων</div>
<div class="n" style="left:758.5px;top:349.9px">2</div>
<div class="c" style="left:492.8px;top:375.3px;transform:scaleX(1.0679)">Μεσσηνίας</div>
<div class="n" style="left:758.5px;top:376.2px">2</div>
<div class="c" style="left:492.8px;top:401.6px;transform:scaleX(1.0214)">Ξάνθης</div>
<div class="n" style="left:758.5px;top:402.5px">2</div>
<div class="c" style="left:492.4px;top:428.4px;transform:scaleX(1.0866)">Αργολίδας</div>
<div class="n" style="left:758.5px;top:429.3px">1</div>
<div class="c" style="left:492.4px;top:454.8px;transform:scaleX(1.0918)">Αρκαδίας</div>
<div class="n" style="left:758.5px;top:455.7px">1</div>
<div class="c" style="left:492.2px;top:489.8px;transform:scaleX(1.0970)">Αρτας</div>
<div class="n" style="left:758.5px;top:490.7px">1</div>
<div class="c" style="left:492.2px;top:516.5px;transform:scaleX(1.1026)">Δωδεκανήσου</div>
<div class="n" style="left:758.5px;top:517.4px">1</div>
<div class="c" style="left:492.8px;top:543.0px;transform:scaleX(1.1122)">Κιλκίς</div>
<div class="n" style="left:758.5px;top:543.9px">1</div>
<div class="c" style="left:492.2px;top:569.3px;transform:scaleX(1.0958)">Λακωνίας</div>
<div class="n" style="left:758.5px;top:570.2px">1</div>
<div class="c" style="left:492.2px;top:595.8px;transform:scaleX(1.1122)">Λασιθίου</div>
<div class="n" style="left:758.5px;top:596.7px">1</div>
<div class="c" style="left:492.2px;top:631.7px;transform:scaleX(1.0753)">Λέσβου</div>
<div class="n" style="left:758.5px;top:632.6px">1</div>
<div class="c" style="left:492.8px;top:657.7px;transform:scaleX(1.0945)">Μαγνησίας</div>
<div class="n" style="left:758.5px;top:658.6px">1</div>
<div class="c" style="left:492.8px;top:684.2px;transform:scaleX(1.0822)">Τρικάλων</div>
<div class="n" style="left:758.5px;top:685.1px">1</div>
<div class="c" style="left:492.8px;top:710.8px;transform:scaleX(1.1014)">υπό διερεύνηση</div>
<div class="n" style="left:758.5px;top:711.7px">144</div>
</body></html>
